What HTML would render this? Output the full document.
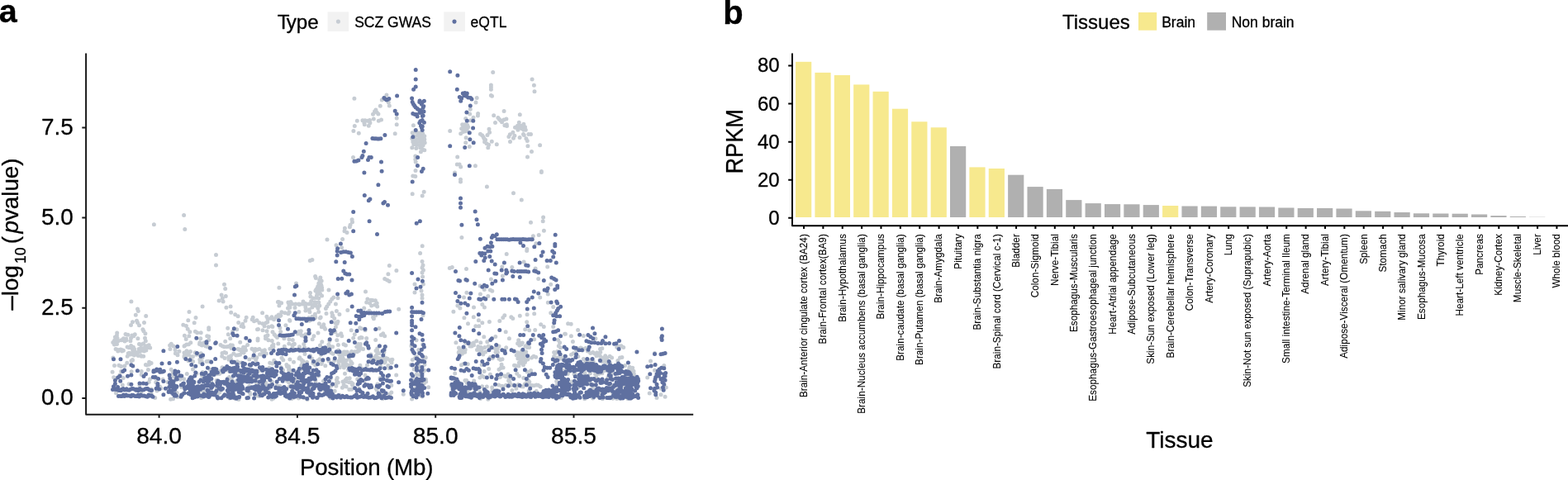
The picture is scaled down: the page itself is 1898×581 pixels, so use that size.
<!DOCTYPE html>
<html lang="en">
<head>
<meta charset="utf-8">
<title>Figure</title>
<style>
html,body{margin:0;padding:0;background:#fff;}
svg{display:block;}
text{font-family:"Liberation Sans", Arial, Helvetica, sans-serif;fill:#000;stroke:#000;stroke-width:0.3px;stroke-linejoin:round;}
text.s{font-size:12.4px;text-anchor:end;stroke-width:0.1px;}
</style>
</head>
<body>
<svg width="1898" height="581" viewBox="0 0 1898 581">
<rect width="1898" height="581" fill="#fff"/>
<g id="panel-a">
<text x="-1.2" y="26.9" font-size="39.5" font-weight="bold">a</text>
<text x="335.8" y="35" font-size="24.2">T<tspan dx="-2.6">ype</tspan></text>
<rect x="396.6" y="14.3" width="25.6" height="23.7" fill="#F2F2F2"/>
<circle cx="409.4" cy="26.1" r="2.55" fill="#C6CCD3"/>
<text x="429.2" y="32.8" font-size="17.5">SCZ GWAS</text>
<rect x="537.3" y="14.3" width="25.6" height="23.7" fill="#F2F2F2"/>
<circle cx="550" cy="26.1" r="2.55" fill="#5F70A0"/>
<text x="569.6" y="32.8" font-size="17.5">eQTL</text>
<path d="M428.9 119.3h0M467.9 114.9h0M462.3 120.9h0M470.3 123.9h0M471.3 127.9h0M460.3 128.3h0M454.9 132.9h0M453.5 134.9h0M456.3 136.3h0M451.5 138.3h0M457.9 137.9h0M452.3 143.9h0M461.5 144.9h0M458.3 146.2h0M432.3 146.2h0M438.9 145.8h0M441.9 145.8h0M444.9 146.2h0M447.5 145.4h0M440.9 148.8h0M447.9 148.8h0M446.3 152.2h0M441.3 150.8h0M429.3 152.4h0M427.9 158.4h0M434.3 161.2h0M480.2 142.9h0M480.2 150.8h0M478.2 161.8h0M500.4 151.8h0M499.2 160.8h0M503.8 159.8h0M507.8 160.8h0M511.8 161.8h0M513.8 164.8h0M509.8 164.8h0M505.8 163.8h0M501.8 164.8h0M498.8 167.8h0M502.8 168.2h0M506.8 167.8h0M510.8 168.2h0M513.8 168.8h0M499.8 171.4h0M503.8 171.8h0M507.8 171.4h0M511.8 172.2h0M514.2 172.8h0M500.8 174.8h0M504.8 175.4h0M508.8 175.2h0M512.2 175.8h0M498.8 178.8h0M503.8 179.4h0M508.8 178.8h0M511.8 180.8h0M513.8 181.8h0M509.4 183.8h0M569.3 132.3h0M568.7 137.9h0M563.7 143.5h0M569.7 145.8h0M559.7 150.8h0M562.7 150.8h0M565.7 151.4h0M560.7 153.8h0M563.7 154.2h0M566.7 153.8h0M558.7 155.8h0M562.1 156.8h0M565.3 156.8h0M563.7 158.8h0M560.7 159.4h0M544.7 158.4h0M557.7 161.8h0M564.1 166.8h0M563.7 172.8h0M568.3 177.4h0M596.7 87.6h0M594.4 102.9h0M594.4 105.5h0M594.4 108.3h0M594.4 115.5h0M595.5 116.3h0M644.1 96.1h0M646.4 103.3h0M647.0 110.7h0M577.2 118.5h0M576.0 123.9h0M578.6 137.5h0M578.4 139.9h0M573.0 142.3h0M610.1 134.5h0M629.3 138.7h0M597.7 139.7h0M602.9 142.5h0M604.3 144.3h0M605.9 145.8h0M607.5 147.8h0M609.9 144.9h0M612.9 143.9h0M599.5 148.4h0M610.9 151.8h0M613.3 150.8h0M613.5 152.4h0M628.3 148.2h0M633.9 150.2h0M626.5 152.2h0M629.9 152.2h0M633.5 152.8h0M623.5 154.2h0M627.9 155.4h0M631.9 155.8h0M635.5 153.8h0M626.9 157.2h0M633.9 157.2h0M636.3 157.2h0M592.0 156.2h0M592.6 160.2h0M590.0 163.4h0M581.4 162.2h0M583.6 163.8h0M585.0 165.8h0M586.0 167.8h0M587.6 169.2h0M586.6 171.8h0M589.0 173.8h0M591.6 175.2h0M590.8 178.8h0M595.3 171.2h0M601.3 174.8h0M620.9 160.2h0M617.3 162.8h0M622.9 164.2h0M615.9 165.4h0M621.5 167.2h0M617.5 171.4h0M629.1 166.6h0M633.5 162.4h0M634.3 163.4h0M639.9 162.4h0M642.5 162.6h0M636.9 167.8h0M638.3 170.4h0M638.9 176.8h0M643.5 183.4h0M653.6 175.8h0M427.5 190.4h0M502.8 189.0h0M502.8 193.0h0M503.2 196.0h0M503.0 206.6h0M499.8 212.9h0M502.8 213.5h0M499.2 234.7h0M513.2 232.3h0M511.2 236.9h0M511.2 297.8h0M553.7 190.0h0M553.3 199.0h0M556.1 199.0h0M557.7 202.0h0M550.5 209.0h0M557.5 217.3h0M557.5 219.9h0M558.9 287.4h0M426.1 265.8h0M426.5 268.8h0M424.0 272.2h0M423.4 274.8h0M417.4 276.2h0M417.0 279.8h0M420.0 281.4h0M414.6 289.4h0M407.0 296.8h0M413.6 299.8h0M638.5 190.0h0M575.4 200.8h0M655.4 207.4h0M655.4 208.4h0M589.4 225.9h0M621.5 233.7h0M631.3 242.1h0M657.6 263.0h0M657.2 267.8h0M642.5 269.2h0M658.4 279.2h0M652.2 284.6h0M645.4 285.8h0M648.8 294.8h0M637.9 301.4h0M222.6 260.5h0M223.8 277.4h0M396.0 290.0h0M186.4 271.8h0M261.5 308.4h0M261.5 321.0h0M271.5 344.3h0M272.7 349.5h0M268.1 357.1h0M273.3 358.5h0M269.3 360.9h0M265.1 363.9h0M270.1 364.9h0M279.1 370.9h0M273.9 372.3h0M279.7 378.2h0M284.7 380.8h0M288.1 382.8h0M298.2 384.2h0M306.2 384.2h0M305.2 386.8h0M307.6 388.8h0M297.0 388.2h0M288.7 390.4h0M293.7 392.2h0M292.1 394.8h0M294.7 395.8h0M275.7 397.2h0M286.7 398.8h0M281.7 401.2h0M276.3 404.8h0M278.7 409.8h0M272.7 413.2h0M290.7 414.2h0M245.1 370.9h0M229.0 377.4h0M237.0 384.6h0M227.8 387.8h0M235.2 390.8h0M221.8 393.2h0M225.4 394.4h0M227.2 398.2h0M252.7 396.8h0M252.7 398.8h0M229.8 401.8h0M236.4 401.2h0M238.8 402.8h0M243.2 402.8h0M223.4 406.2h0M228.8 406.8h0M225.2 410.4h0M250.7 406.8h0M252.7 407.2h0M242.8 409.8h0M252.7 411.4h0M230.8 414.8h0M241.8 414.8h0M158.9 364.9h0M166.5 373.9h0M167.3 376.5h0M164.3 381.2h0M176.7 382.6h0M165.5 388.2h0M160.5 389.8h0M166.5 390.4h0M174.5 390.4h0M158.5 393.4h0M168.5 393.8h0M172.9 398.8h0M173.9 400.8h0M175.9 403.8h0M163.3 404.8h0M154.9 405.2h0M161.9 406.8h0M158.5 409.2h0M149.5 409.8h0M166.9 409.8h0M175.5 409.2h0M138.6 412.8h0M143.0 412.8h0M146.9 411.8h0M152.9 411.8h0M157.9 412.8h0M176.3 412.8h0M377.9 314.4h0M375.3 315.6h0M471.3 321.4h0M479.9 327.5h0M469.9 331.7h0M465.7 337.5h0M468.7 338.9h0M471.3 340.5h0M442.5 352.9h0M444.9 361.9h0M443.7 365.9h0M447.7 366.9h0M449.7 369.9h0M453.7 368.9h0M456.7 370.9h0M440.7 372.9h0M482.7 374.3h0M420.8 375.5h0M454.7 381.8h0M435.7 396.8h0M425.2 399.8h0M463.7 403.8h0M465.7 406.8h0M438.1 408.8h0M454.7 411.4h0M387.8 335.9h0M386.8 338.9h0M389.2 339.9h0M385.8 342.9h0M388.4 343.9h0M386.4 346.3h0M383.9 348.9h0M388.8 348.9h0M381.9 351.9h0M386.8 351.9h0M389.8 350.9h0M383.9 354.9h0M398.0 350.9h0M375.5 354.5h0M375.9 358.9h0M378.9 360.9h0M385.8 360.9h0M403.8 359.9h0M401.8 361.9h0M399.8 364.9h0M397.8 367.9h0M406.4 367.9h0M395.8 370.9h0M394.4 373.5h0M401.8 378.8h0M402.2 382.8h0M404.8 385.4h0M405.8 390.8h0M337.9 348.3h0M358.5 342.9h0M337.5 365.5h0M337.9 369.9h0M348.9 365.9h0M349.9 368.9h0M353.9 367.9h0M357.9 367.9h0M361.9 367.9h0M365.9 367.9h0M369.9 367.5h0M373.9 367.9h0M377.9 368.9h0M381.9 369.9h0M386.8 369.9h0M350.9 372.3h0M369.9 371.9h0M377.9 371.9h0M384.9 372.9h0M369.9 375.9h0M374.9 377.8h0M340.9 377.8h0M344.9 378.8h0M348.9 379.8h0M317.6 378.8h0M329.0 383.8h0M331.6 386.8h0M339.9 381.8h0M311.0 387.8h0M314.0 390.8h0M318.0 391.8h0M322.0 390.8h0M350.9 388.2h0M381.5 384.8h0M386.4 391.8h0M391.8 392.8h0M320.0 394.8h0M325.0 395.8h0M329.0 394.8h0M338.9 396.8h0M345.9 393.8h0M392.8 396.8h0M406.4 395.8h0M318.0 399.8h0M323.0 400.8h0M330.0 401.8h0M364.3 400.8h0M405.8 401.8h0M324.0 405.8h0M332.0 404.8h0M379.9 406.8h0M412.8 403.8h0M408.8 405.8h0M413.8 406.8h0M325.0 411.8h0M343.9 409.8h0M349.9 410.8h0M354.3 411.4h0M369.9 404.8h0M407.8 411.8h0M389.8 413.8h0M508.6 306.4h0M511.0 316.6h0M512.0 321.0h0M511.0 324.0h0M512.4 327.0h0M511.0 329.9h0M511.6 334.9h0M512.4 343.9h0M510.0 351.9h0M511.0 356.9h0M511.0 360.9h0M502.0 343.9h0M502.0 353.9h0M512.0 381.8h0M504.0 411.8h0M547.3 323.4h0M544.3 324.6h0M564.5 325.6h0M564.9 354.3h0M561.5 359.9h0M553.9 369.9h0M556.9 372.9h0M548.9 377.2h0M561.9 384.8h0M566.5 391.8h0M551.9 414.8h0M613.2 307.4h0M637.7 303.6h0M634.1 317.0h0M619.8 323.6h0M607.8 323.0h0M648.1 325.0h0M662.7 323.0h0M651.7 337.5h0M608.4 333.9h0M594.4 337.9h0M666.7 344.3h0M653.7 359.9h0M663.3 355.9h0M663.3 366.3h0M669.7 371.5h0M666.7 378.8h0M581.2 345.9h0M586.2 350.5h0M593.4 350.9h0M595.8 352.3h0M581.4 355.9h0M590.8 358.5h0M583.8 368.5h0M586.4 371.9h0M573.5 372.1h0M573.3 383.8h0M579.4 387.8h0M583.8 390.8h0M592.4 389.4h0M575.8 394.8h0M579.8 394.8h0M585.8 407.8h0M599.8 407.4h0M576.8 412.8h0M581.8 414.8h0M589.8 413.8h0M610.8 381.8h0M608.8 384.4h0M604.8 388.4h0M618.8 383.8h0M620.8 385.4h0M629.3 382.2h0M646.7 379.8h0M638.1 380.8h0M637.7 389.8h0M654.7 392.8h0M658.3 395.4h0M669.7 395.4h0M635.7 398.8h0M640.7 399.8h0M647.7 399.4h0M612.2 401.8h0M616.4 409.8h0M627.7 411.8h0M646.7 410.8h0M683.6 404.2h0M687.6 391.8h0M675.6 411.4h0M677.6 414.8h0M691.2 392.2h0M699.6 399.4h0M684.4 404.2h0M691.4 406.8h0M706.3 406.4h0M693.4 413.4h0M720.9 409.8h0M159.9 406.1h0M143.2 412.6h0M139.4 408.1h0M152.7 409.9h0M140.3 410.1h0M151.0 413.0h0M136.8 414.4h0M141.1 412.5h0M151.2 412.8h0M141.4 406.0h0M138.6 412.1h0M152.0 404.5h0M141.7 402.9h0M142.0 409.2h0M321.4 407.1h0M312.0 412.0h0M335.5 408.4h0M329.3 412.4h0M312.5 398.4h0M312.1 409.9h0M324.0 385.7h0M321.5 409.8h0M324.3 386.2h0M334.3 383.9h0M323.8 389.7h0M322.3 408.4h0M329.9 395.6h0M334.6 383.1h0M322.9 383.3h0M333.5 406.6h0M311.5 398.8h0M328.0 385.3h0M352.0 365.5h0M381.4 380.3h0M385.7 377.4h0M367.0 365.0h0M361.9 377.5h0M376.7 364.4h0M336.4 365.5h0M385.8 365.9h0M357.0 372.4h0M383.6 366.3h0M350.0 377.7h0M340.6 366.8h0M337.3 381.1h0M348.5 372.9h0M356.4 381.5h0M374.3 374.7h0M362.3 368.7h0M381.2 365.7h0M369.5 369.2h0M350.8 372.0h0M382.7 350.5h0M381.6 334.5h0M382.3 336.4h0M389.6 348.2h0M387.6 355.7h0M382.5 360.5h0M384.7 346.8h0M385.7 353.4h0M388.5 339.4h0M389.1 345.9h0M383.4 358.1h0M389.6 357.9h0M398.9 412.6h0M402.3 402.8h0M409.0 389.3h0M402.9 381.9h0M410.9 380.6h0M408.2 391.5h0M407.4 376.4h0M393.6 398.3h0M395.0 379.4h0M409.0 360.8h0M385.0 403.0h0M366.2 406.2h0M339.0 382.6h0M374.8 402.9h0M370.4 411.4h0M350.5 387.6h0M388.2 384.0h0M363.7 404.3h0M387.4 385.0h0M373.8 384.7h0M360.4 404.1h0M381.7 383.5h0M376.3 387.2h0M381.8 384.6h0M336.2 383.0h0M378.0 383.2h0M378.2 410.8h0M370.1 411.5h0M365.2 405.9h0M339.7 401.6h0M389.3 395.8h0M374.5 388.2h0M361.9 401.3h0M456.2 366.9h0M449.0 363.2h0M451.6 384.1h0M447.0 376.3h0M451.1 363.4h0M454.4 363.8h0M452.4 385.7h0M435.1 409.2h0M436.7 408.5h0M429.3 404.8h0M458.9 397.4h0M437.5 397.7h0M427.7 409.2h0M461.3 405.5h0M442.1 399.7h0M443.7 409.5h0M155.2 427.8h0M158.2 427.9h0M160.5 427.4h0M168.1 422.6h0M170.2 421.6h0M172.9 421.7h0M175.9 419.6h0M169.1 423.3h0M171.3 424.1h0M174.3 423.7h0M176.4 422.5h0M168.5 416.6h0M170.8 417.0h0M173.5 416.1h0M177.5 419.8h0M180.2 417.8h0M156.4 427.3h0M158.2 429.0h0M161.2 426.5h0M164.1 427.1h0M140.1 422.6h0M142.8 424.8h0M146.0 422.9h0M147.7 423.8h0M177.0 418.7h0M179.8 419.1h0M178.7 420.5h0M181.7 421.1h0M154.1 420.0h0M156.2 420.7h0M158.6 418.4h0M161.4 420.2h0M160.0 421.8h0M162.5 422.4h0M171.2 431.3h0M173.7 431.3h0M169.4 425.4h0M172.6 424.2h0M162.4 430.0h0M165.5 428.7h0M167.3 430.6h0M170.6 430.5h0M174.5 425.1h0M176.9 424.1h0M138.4 416.9h0M141.5 416.4h0M160.8 424.8h0M163.8 426.1h0M166.5 426.8h0M142.8 425.0h0M144.6 423.4h0M147.3 423.4h0M141.4 423.1h0M144.5 423.5h0M154.2 431.2h0M156.7 429.1h0M147.6 425.1h0M149.4 424.3h0M146.6 443.5h0M177.6 442.0h0M138.5 442.4h0M144.0 442.2h0M150.9 442.9h0M160.5 435.9h0M159.0 436.8h0M160.4 435.4h0M136.9 432.9h0M153.8 439.3h0M180.2 441.3h0M181.5 439.6h0M183.1 439.4h0M180.6 438.3h0M176.4 441.5h0M180.8 440.7h0M205.6 417.9h0M212.4 427.7h0M210.1 418.9h0M207.3 416.3h0M205.9 422.4h0M212.1 423.5h0M215.0 429.8h0M216.9 425.3h0M250.1 437.4h0M252.1 437.2h0M254.8 437.6h0M228.1 436.8h0M231.0 434.8h0M233.6 437.4h0M237.9 429.2h0M240.3 428.7h0M243.2 427.7h0M242.1 438.5h0M244.4 437.7h0M241.8 435.2h0M243.8 433.0h0M223.0 432.1h0M223.0 430.9h0M224.1 433.2h0M227.2 429.5h0M241.5 416.5h0M243.8 417.6h0M246.6 415.0h0M249.0 417.1h0M223.0 419.1h0M223.5 418.5h0M225.9 417.0h0M228.4 416.8h0M244.5 418.0h0M246.2 417.0h0M249.0 419.0h0M251.5 419.8h0M228.3 429.2h0M231.2 431.8h0M233.4 431.7h0M223.0 427.0h0M226.0 424.7h0M227.8 426.2h0M230.4 425.5h0M236.3 426.8h0M238.4 428.5h0M241.2 428.6h0M244.9 432.7h0M292.3 423.9h0M295.0 427.1h0M297.5 424.0h0M290.1 422.9h0M292.5 425.5h0M308.8 432.5h0M310.8 432.7h0M306.4 423.1h0M308.9 422.4h0M311.3 423.2h0M313.9 422.6h0M305.0 422.3h0M307.9 425.3h0M310.1 423.5h0M267.0 417.5h0M269.3 419.1h0M271.4 419.8h0M269.0 427.5h0M271.8 426.4h0M273.6 427.3h0M288.1 422.6h0M289.7 423.5h0M293.1 422.9h0M306.3 432.5h0M309.7 435.8h0M287.3 437.7h0M289.4 438.9h0M292.3 438.9h0M294.6 420.2h0M296.6 420.6h0M299.6 417.5h0M314.5 428.9h0M317.3 429.1h0M319.3 427.5h0M322.3 427.9h0M280.0 421.5h0M282.4 421.5h0M274.4 419.8h0M276.2 419.4h0M277.0 435.2h0M279.6 434.8h0M282.2 437.9h0M282.8 428.1h0M285.9 429.9h0M288.3 429.7h0M290.6 429.2h0M279.1 417.7h0M281.4 418.1h0M317.5 424.7h0M320.4 423.8h0M268.7 431.3h0M272.0 433.5h0M276.8 432.1h0M279.5 430.8h0M301.8 435.0h0M362.5 419.8h0M355.0 416.8h0M356.4 416.2h0M326.8 422.2h0M355.7 417.1h0M353.9 421.3h0M354.0 418.0h0M353.9 417.9h0M344.3 419.3h0M330.9 417.0h0M336.8 416.1h0M330.8 420.0h0M329.4 418.7h0M349.8 415.9h0M331.8 436.2h0M350.9 435.1h0M355.5 438.2h0M342.8 435.8h0M362.8 433.6h0M349.5 443.4h0M347.5 443.4h0M366.0 439.1h0M365.0 435.4h0M346.9 441.6h0M341.0 433.3h0M366.2 440.6h0M362.8 432.7h0M335.0 439.7h0M349.6 445.4h0M364.7 442.5h0M340.2 444.7h0M329.6 439.9h0M362.1 433.9h0M326.7 439.2h0M187.7 481.4h0M180.3 462.4h0M171.2 449.5h0M169.0 466.8h0M156.1 464.7h0M159.1 449.7h0M148.3 466.1h0M179.4 447.6h0M183.1 471.0h0M194.9 469.9h0M146.6 449.5h0M163.1 479.4h0M188.3 458.1h0M190.0 472.9h0M181.4 458.9h0M203.0 462.5h0M188.7 462.8h0M171.2 474.0h0M137.7 456.8h0M183.3 477.2h0M193.5 450.4h0M144.9 454.0h0M140.7 475.1h0M195.1 450.1h0M136.1 450.2h0M205.2 454.9h0M193.5 468.1h0M171.2 453.4h0M149.2 457.5h0M197.1 459.3h0M188.9 456.6h0M140.5 475.7h0M288.8 471.5h0M277.6 456.5h0M359.8 451.8h0M278.8 447.6h0M325.8 470.2h0M344.8 470.6h0M335.0 468.5h0M355.4 464.8h0M245.3 450.5h0M262.6 452.4h0M267.7 472.2h0M235.2 477.1h0M209.5 482.8h0M318.1 470.9h0M245.8 457.4h0M314.0 479.6h0M213.4 469.5h0M249.7 473.5h0M277.6 475.4h0M240.6 476.8h0M298.2 447.2h0M244.3 453.9h0M283.4 478.2h0M233.4 464.6h0M214.2 475.5h0M278.3 460.2h0M275.9 446.4h0M233.3 475.6h0M313.6 466.2h0M329.0 483.2h0M337.8 473.8h0M320.9 466.0h0M352.4 479.6h0M285.8 453.0h0M266.9 451.1h0M266.2 449.4h0M267.5 451.1h0M345.7 471.6h0M263.7 480.8h0M365.2 447.1h0M243.6 481.4h0M322.9 449.3h0M321.6 462.9h0M275.6 458.1h0M213.6 454.9h0M284.7 482.6h0M363.1 478.4h0M289.3 468.2h0M287.1 451.1h0M345.9 479.3h0M325.2 446.9h0M209.4 463.3h0M213.7 467.5h0M255.8 455.3h0M266.7 468.1h0M215.0 480.4h0M366.1 465.2h0M245.2 472.9h0M271.3 446.1h0M260.9 447.2h0M210.7 454.0h0M306.5 470.1h0M335.2 466.6h0M310.7 463.9h0M347.4 480.4h0M303.0 477.2h0M349.5 462.7h0M280.4 459.0h0M288.9 451.4h0M266.8 463.7h0M364.6 466.3h0M238.0 452.3h0M253.1 480.5h0M269.0 444.8h0M277.3 473.2h0M350.4 467.8h0M340.6 446.1h0M366.6 481.1h0M348.9 456.7h0M226.3 452.5h0M210.3 455.7h0M361.4 481.9h0M304.7 454.5h0M355.6 461.6h0M344.6 452.7h0M325.9 445.2h0M342.0 448.0h0M302.5 446.2h0M206.6 483.3h0M244.4 454.0h0M302.3 475.3h0M247.0 475.8h0M278.0 481.9h0M301.8 467.5h0M338.7 467.2h0M286.1 461.2h0M330.8 482.2h0M346.8 480.0h0M269.0 446.8h0M362.9 465.9h0M362.6 477.1h0M252.9 475.4h0M363.5 472.5h0M351.7 480.9h0M255.7 462.5h0M362.9 457.8h0M274.0 447.6h0M329.2 462.2h0M271.0 447.3h0M363.4 474.2h0M265.8 475.0h0M207.2 447.2h0M210.9 472.1h0M311.7 457.2h0M336.0 469.6h0M222.1 476.1h0M354.2 472.9h0M222.7 458.7h0M298.4 451.4h0M250.3 477.7h0M207.9 460.8h0M349.6 447.8h0M347.5 461.1h0M256.7 474.9h0M244.1 479.1h0M315.4 447.7h0M219.8 468.8h0M281.6 448.3h0M209.2 451.2h0M311.7 479.0h0M233.5 447.1h0M212.2 479.2h0M354.4 459.0h0M342.6 448.1h0M326.6 459.4h0M262.1 460.5h0M265.5 452.5h0M309.8 469.9h0M229.6 475.5h0M312.2 449.4h0M353.1 482.4h0M288.9 483.4h0M280.2 472.1h0M353.6 468.3h0M317.1 474.1h0M246.1 470.3h0M218.1 459.3h0M355.8 481.2h0M269.5 446.9h0M356.7 462.0h0M212.4 459.8h0M350.7 459.0h0M360.6 449.5h0M254.3 447.6h0M278.1 445.5h0M322.7 465.8h0M321.2 457.3h0M277.8 449.6h0M263.6 476.5h0M357.6 459.2h0M278.3 470.2h0M352.2 448.6h0M326.1 452.4h0M317.4 478.8h0M262.4 470.3h0M341.4 458.5h0M240.0 473.5h0M235.3 462.5h0M307.2 458.1h0M265.7 468.7h0M416.0 416.7h0M418.4 418.1h0M415.0 428.5h0M417.5 426.0h0M420.2 426.0h0M423.2 428.3h0M416.3 426.1h0M418.6 428.7h0M414.8 430.0h0M416.8 426.5h0M420.0 427.0h0M427.1 426.9h0M429.4 425.7h0M432.3 425.8h0M434.4 424.5h0M433.7 416.4h0M436.4 416.5h0M432.2 425.2h0M434.0 423.7h0M436.9 422.0h0M431.7 419.7h0M433.7 419.7h0M436.1 419.7h0M439.6 422.6h0M425.6 425.6h0M428.3 428.6h0M402.6 419.8h0M409.5 425.8h0M409.2 427.1h0M390.3 435.9h0M397.9 417.0h0M386.0 424.5h0M400.8 427.1h0M384.7 436.4h0M413.0 431.4h0M409.4 417.4h0M397.5 420.6h0M380.3 423.1h0M378.8 439.3h0M388.5 429.2h0M409.7 424.0h0M386.9 434.7h0M375.4 430.8h0M389.7 422.8h0M377.5 434.1h0M398.0 436.8h0M399.1 419.1h0M389.9 438.4h0M410.8 429.2h0M404.7 436.5h0M403.1 428.3h0M368.6 420.4h0M367.8 416.5h0M369.0 428.6h0M387.5 417.9h0M398.9 424.1h0M422.6 433.7h0M424.7 437.7h0M419.5 442.4h0M417.9 436.5h0M419.4 441.0h0M416.3 438.1h0M417.4 437.3h0M425.8 439.5h0M411.6 433.5h0M426.1 439.8h0M409.9 437.0h0M415.3 433.9h0M419.3 436.3h0M425.0 444.5h0M417.2 443.1h0M422.3 442.3h0M411.3 444.7h0M413.9 437.4h0M474.0 438.9h0M450.3 437.9h0M457.0 440.4h0M461.8 437.9h0M464.9 424.4h0M464.4 432.8h0M464.9 426.4h0M467.1 433.6h0M458.4 435.4h0M458.2 433.4h0M466.3 438.1h0M455.2 430.5h0M460.3 439.2h0M464.6 433.9h0M454.0 432.5h0M456.8 421.7h0M461.8 433.7h0M473.0 435.7h0M465.4 439.1h0M474.9 435.3h0M457.0 440.5h0M450.8 435.3h0M454.8 434.5h0M448.9 429.1h0M464.8 436.0h0M472.6 436.9h0M451.0 438.7h0M456.9 425.3h0M456.8 427.8h0M450.2 433.1h0M458.8 427.7h0M447.6 430.6h0M469.1 434.3h0M449.3 434.0h0M455.0 424.5h0M407.5 459.6h0M425.3 463.1h0M415.0 461.9h0M419.1 467.9h0M423.2 457.7h0M419.5 461.8h0M408.3 457.6h0M409.3 463.1h0M407.0 464.0h0M408.2 457.4h0M406.9 467.2h0M426.5 465.9h0M427.0 464.4h0M418.1 460.0h0M422.8 471.5h0M386.2 454.4h0M417.5 452.3h0M473.8 475.1h0M422.7 462.7h0M471.0 445.8h0M409.7 441.0h0M419.8 458.1h0M440.9 460.8h0M393.8 469.7h0M434.6 470.2h0M392.4 471.7h0M469.8 442.6h0M456.9 465.1h0M460.0 457.7h0M416.1 465.8h0M442.0 454.2h0M432.7 458.9h0M460.9 444.0h0M391.5 461.2h0M448.9 466.5h0M405.2 473.3h0M435.9 442.2h0M456.0 471.8h0M421.7 447.8h0M393.8 442.7h0M400.1 458.0h0M389.0 440.5h0M400.0 481.8h0M438.3 446.2h0M414.4 469.2h0M463.4 482.4h0M411.5 478.5h0M444.5 442.1h0M472.0 477.1h0M425.7 471.3h0M416.4 444.9h0M403.7 478.5h0M400.8 467.0h0M393.4 474.1h0M407.8 443.5h0M415.0 441.8h0M455.1 469.9h0M464.7 478.6h0M460.9 476.8h0M471.0 445.5h0M381.5 440.7h0M385.7 465.0h0M379.3 470.2h0M377.1 451.4h0M381.8 441.9h0M381.9 461.1h0M372.0 483.0h0M369.0 443.5h0M371.7 439.5h0M383.8 437.4h0M368.0 481.6h0M377.9 478.6h0M371.6 438.5h0M371.9 482.5h0M375.6 468.9h0M367.0 437.2h0M379.1 439.8h0M372.0 483.4h0M382.9 439.5h0M368.4 469.2h0M383.0 449.5h0M372.0 444.4h0M385.5 455.0h0M381.5 455.1h0M373.3 471.5h0M479.7 454.0h0M488.3 477.2h0M473.8 466.5h0M506.6 460.2h0M515.4 459.2h0M507.3 464.1h0M512.5 449.3h0M504.4 433.5h0M514.5 433.2h0M499.3 435.6h0M504.6 432.3h0M498.8 470.6h0M510.1 454.4h0M515.7 461.9h0M507.2 442.8h0M509.4 479.1h0M498.6 482.9h0M498.7 470.8h0M501.8 459.8h0M501.2 447.1h0M508.0 453.7h0M503.7 453.5h0M497.9 418.8h0M502.5 433.6h0M513.9 441.2h0M515.3 432.7h0M510.2 423.5h0M503.1 432.5h0M498.0 477.8h0M511.1 480.1h0M513.4 463.9h0M503.0 470.2h0M504.6 453.6h0M513.6 448.2h0M497.3 441.6h0M508.8 446.8h0M506.8 423.6h0M511.6 417.0h0M518.7 468.8h0M555.6 425.8h0M557.7 426.5h0M560.1 423.8h0M562.4 426.2h0M577.5 423.4h0M580.1 423.5h0M582.9 425.2h0M600.0 426.3h0M602.4 426.5h0M555.2 426.8h0M557.6 427.5h0M559.4 428.3h0M562.7 426.3h0M569.0 419.1h0M571.0 419.1h0M573.5 417.8h0M578.8 419.4h0M582.1 420.4h0M583.7 421.8h0M586.8 420.5h0M555.4 421.0h0M557.7 423.9h0M560.6 422.4h0M563.2 423.2h0M567.6 415.0h0M570.4 416.3h0M573.3 415.0h0M563.6 415.0h0M565.8 415.0h0M582.2 427.9h0M584.8 429.1h0M587.6 426.1h0M591.2 419.0h0M593.7 419.8h0M593.4 432.4h0M596.3 433.5h0M599.4 421.9h0M602.3 422.1h0M604.0 419.1h0M583.2 441.4h0M585.1 441.2h0M558.5 441.7h0M561.2 440.6h0M564.4 440.5h0M566.3 440.7h0M550.7 452.1h0M587.0 476.6h0M546.4 467.1h0M562.9 460.6h0M595.7 469.0h0M564.7 460.4h0M589.3 468.0h0M599.8 472.4h0M558.7 472.6h0M568.1 471.0h0M602.1 472.5h0M580.9 457.1h0M565.1 463.2h0M569.2 476.8h0M586.1 449.4h0M580.0 479.3h0M583.6 467.8h0M593.9 480.7h0M580.9 474.5h0M591.7 446.5h0M598.1 478.0h0M593.4 453.3h0M583.3 454.8h0M548.6 475.4h0M566.0 475.3h0M595.9 473.0h0M590.8 483.3h0M558.3 464.2h0M581.6 482.6h0M574.3 478.5h0M586.0 456.4h0M592.2 476.7h0M573.7 460.9h0M576.5 470.9h0M594.1 478.3h0M634.0 433.3h0M636.5 435.8h0M638.8 435.0h0M638.4 420.5h0M640.6 420.4h0M633.2 439.0h0M635.5 438.6h0M607.1 441.3h0M609.1 444.9h0M626.9 434.1h0M630.1 434.7h0M632.0 434.5h0M604.0 447.2h0M606.2 445.5h0M638.1 449.9h0M640.5 450.2h0M642.6 448.5h0M625.2 430.0h0M628.3 430.3h0M630.6 431.2h0M626.6 415.8h0M628.8 418.1h0M630.9 417.1h0M626.7 426.7h0M629.1 428.6h0M632.1 428.7h0M634.8 429.6h0M631.5 425.0h0M634.2 427.6h0M636.7 426.0h0M643.5 433.1h0M646.0 431.2h0M648.7 432.3h0M604.0 434.2h0M604.0 434.3h0M605.8 435.6h0M608.0 434.8h0M628.4 439.1h0M631.2 439.4h0M633.5 441.7h0M629.3 415.0h0M632.3 415.0h0M622.5 442.3h0M624.6 442.8h0M627.9 443.0h0M609.9 424.3h0M612.7 420.8h0M635.9 418.9h0M638.4 417.1h0M640.7 415.9h0M633.8 457.6h0M618.2 465.5h0M635.2 464.9h0M627.7 466.1h0M616.5 459.0h0M610.7 454.9h0M640.2 473.3h0M628.5 455.3h0M612.5 455.8h0M615.0 452.9h0M605.4 456.4h0M617.0 462.8h0M615.5 456.3h0M624.9 470.2h0M637.9 462.4h0M615.6 460.8h0M640.8 462.3h0M639.0 459.8h0M604.5 456.8h0M619.9 472.6h0M625.8 452.3h0M649.3 473.4h0M603.7 466.1h0M607.2 467.2h0M608.9 467.8h0M612.5 466.3h0M615.3 466.9h0M617.5 466.3h0M619.8 466.3h0M621.9 465.9h0M625.2 467.4h0M627.4 465.4h0M630.9 467.7h0M633.2 467.9h0M635.4 465.1h0M638.8 465.6h0M640.4 466.3h0M643.9 466.6h0M646.1 466.7h0M649.2 466.1h0M651.4 466.3h0M654.1 468.0h0M735.7 439.3h0M738.6 439.8h0M715.4 435.8h0M718.4 438.1h0M675.9 432.9h0M678.8 434.0h0M680.8 433.2h0M683.5 431.1h0M726.5 422.6h0M728.8 421.8h0M746.7 420.3h0M749.6 419.3h0M752.0 418.8h0M754.7 420.6h0M670.6 433.1h0M670.6 431.4h0M671.6 433.9h0M674.3 432.9h0M712.2 436.8h0M715.5 439.2h0M676.3 418.8h0M678.5 420.8h0M697.0 432.0h0M699.8 431.6h0M705.4 440.4h0M708.5 438.6h0M696.6 422.4h0M698.2 421.7h0M701.6 422.0h0M703.8 421.5h0M706.2 422.6h0M708.9 421.4h0M711.3 424.9h0M691.5 429.2h0M694.1 427.8h0M706.3 434.6h0M708.3 435.6h0M732.7 430.7h0M734.9 433.3h0M738.1 431.3h0M740.6 432.9h0M724.6 429.0h0M726.8 426.3h0M726.0 435.7h0M728.7 433.0h0M730.8 433.4h0M728.5 437.6h0M731.2 437.3h0M734.1 437.4h0M722.0 430.7h0M724.4 428.1h0M726.3 430.8h0M714.8 427.4h0M717.7 426.5h0M719.8 427.9h0M722.4 427.0h0M697.8 423.7h0M700.2 421.9h0M702.9 421.0h0M705.2 424.0h0M670.6 426.4h0M672.8 427.3h0M674.6 425.6h0M747.9 436.5h0M750.5 433.1h0M741.6 474.9h0M679.0 478.3h0M678.0 479.1h0M763.3 481.9h0M714.3 452.0h0M681.2 451.2h0M763.3 450.8h0M716.8 465.0h0M725.2 480.5h0M755.6 465.4h0M750.8 482.5h0M725.3 452.2h0M704.9 461.8h0M717.5 479.4h0M765.9 459.7h0M747.9 441.6h0M678.8 478.2h0M737.5 481.0h0M729.3 482.8h0M682.3 460.6h0M765.6 463.0h0M710.2 463.9h0M758.5 462.2h0M692.2 444.7h0M761.5 447.1h0M701.6 476.6h0M729.8 472.5h0M714.1 459.0h0M728.2 450.9h0M678.9 478.4h0M679.8 471.3h0M717.7 482.1h0M747.6 457.8h0M681.2 479.1h0M770.3 460.6h0M728.9 451.7h0M690.4 480.2h0M760.9 475.6h0M679.4 481.3h0M758.0 453.6h0M709.9 461.6h0M707.7 482.8h0M717.7 468.5h0M770.1 459.1h0M724.0 480.0h0M723.2 443.7h0M689.6 449.5h0M720.6 466.8h0M726.3 462.2h0M709.6 459.9h0M740.0 452.1h0M746.5 472.1h0M762.1 444.3h0M696.0 452.2h0M673.0 467.7h0M736.4 473.5h0M768.8 457.2h0M699.2 446.8h0M752.9 467.3h0M692.1 462.1h0M714.0 473.1h0M729.7 461.0h0M687.2 452.4h0M713.9 463.7h0M769.9 467.0h0M720.6 453.0h0M685.7 451.7h0M761.6 454.2h0M715.1 458.4h0M703.3 455.5h0M695.0 452.9h0M757.5 474.3h0M761.8 445.2h0M765.4 446.5h0M698.1 455.7h0M759.8 482.4h0M756.5 442.5h0M727.2 474.0h0M711.8 443.7h0M740.3 458.1h0M675.2 473.5h0M720.6 459.7h0M699.9 481.0h0M703.7 459.3h0M708.1 452.1h0M739.9 466.1h0M697.8 480.4h0M766.0 462.6h0M760.9 479.4h0M726.0 451.3h0M741.7 482.2h0M679.6 456.0h0M737.2 452.7h0M674.5 465.4h0M762.9 473.7h0M767.0 449.2h0M754.8 474.3h0M761.4 456.2h0M746.6 482.4h0M716.6 471.9h0M712.6 479.8h0M710.5 462.3h0M689.0 449.8h0M721.4 475.2h0M696.7 455.0h0M722.0 456.9h0M756.4 460.0h0M772.4 460.1h0M699.9 469.0h0M766.9 478.7h0M721.5 472.5h0M721.9 453.8h0M769.0 462.2h0M698.9 479.0h0M697.0 477.7h0M751.8 449.8h0M678.7 454.9h0M677.5 481.2h0M678.5 443.6h0M750.7 465.0h0M673.7 461.6h0M684.0 449.4h0M759.2 463.0h0M710.4 478.8h0M732.9 481.1h0M727.1 476.9h0M688.6 442.8h0M765.7 445.2h0M707.1 450.3h0M735.0 459.0h0M728.2 460.9h0M762.0 445.3h0M736.0 456.4h0M756.4 467.1h0M743.5 481.0h0M686.3 448.8h0M732.3 448.5h0M689.0 471.3h0M772.1 478.2h0M682.1 448.4h0M787.5 437.0h0M783.7 457.1h0M786.2 475.9h0M800.0 477.8h0M805.1 480.3h0M795.0 481.6h0M792.5 427.6h0M803.8 442.6h0M792.5 448.3h0M806.3 469.0h0M800.0 470.3h0M767.4 452.7h0M752.9 432.6h0" fill="none" stroke="#C6CCD3" stroke-width="5" stroke-linecap="round"/>
<path d="M503.2 84.4h0M503.2 95.9h0M503.2 104.9h0M500.6 108.3h0M498.6 118.9h0M480.6 115.9h0M464.9 118.5h0M467.9 120.9h0M470.9 119.5h0M466.5 119.9h0M469.5 120.3h0M478.2 134.3h0M480.2 137.9h0M499.2 123.5h0M500.4 125.9h0M501.8 128.3h0M503.2 129.9h0M505.2 131.5h0M507.8 123.5h0M511.0 123.9h0M513.4 122.3h0M512.8 128.5h0M508.8 133.5h0M511.2 135.5h0M513.0 134.9h0M499.8 137.5h0M502.2 138.5h0M505.2 140.9h0M512.2 139.9h0M511.2 145.4h0M513.4 148.2h0M507.8 148.8h0M509.4 152.2h0M510.4 154.8h0M511.2 157.4h0M503.2 157.4h0M499.8 165.8h0M450.9 167.4h0M452.9 167.8h0M454.9 167.8h0M456.9 168.0h0M458.9 168.0h0M460.9 167.8h0M465.9 163.4h0M443.1 173.4h0M440.3 183.2h0M544.7 86.8h0M553.9 91.2h0M553.3 108.3h0M560.3 112.9h0M562.7 112.5h0M565.3 112.9h0M561.7 115.5h0M564.1 116.3h0M556.3 117.5h0M558.7 118.9h0M566.7 117.9h0M569.7 118.5h0M557.7 122.3h0M569.3 127.9h0M564.9 135.9h0M565.3 146.2h0M568.3 160.8h0M568.9 168.8h0M562.7 178.4h0M544.7 176.8h0M571.0 119.9h0M572.8 146.2h0M572.6 155.0h0M573.2 172.8h0M438.9 188.4h0M437.9 190.4h0M446.9 190.4h0M449.3 190.4h0M445.5 193.6h0M428.9 195.2h0M431.5 195.0h0M433.9 194.0h0M461.5 196.0h0M440.9 209.0h0M462.1 207.2h0M457.9 223.7h0M441.3 236.5h0M447.9 241.1h0M446.3 242.7h0M465.5 244.5h0M463.9 245.9h0M469.5 248.3h0M427.7 256.5h0M447.1 267.8h0M427.7 279.8h0M456.5 283.4h0M412.4 295.0h0M408.6 300.8h0M505.6 190.4h0M505.4 200.6h0M512.2 204.2h0M510.4 207.6h0M499.2 219.9h0M508.4 267.8h0M504.2 270.2h0M568.3 200.8h0M550.5 211.5h0M557.5 239.9h0M557.5 245.9h0M557.5 251.3h0M558.9 272.2h0M575.2 255.9h0M577.0 265.8h0M578.4 271.8h0M581.4 289.2h0M601.3 283.8h0M596.5 285.2h0M595.3 287.4h0M598.9 285.8h0M601.9 289.8h0M604.3 289.8h0M606.7 289.8h0M609.1 289.8h0M611.5 289.8h0M613.9 289.8h0M616.3 290.2h0M618.7 289.8h0M621.1 289.6h0M623.5 289.8h0M625.9 289.8h0M628.3 289.8h0M630.7 289.8h0M633.1 289.6h0M635.5 289.8h0M637.9 290.0h0M640.3 289.8h0M642.7 289.8h0M644.3 289.8h0M672.2 284.2h0M594.4 293.8h0M590.0 298.2h0M593.0 298.8h0M595.9 298.2h0M587.0 300.2h0M629.9 293.8h0M633.5 297.4h0M646.8 298.8h0M652.8 294.4h0M671.8 295.4h0M671.8 297.8h0M283.3 397.8h0M281.7 403.8h0M282.7 405.8h0M287.1 406.2h0M237.8 409.2h0M249.9 413.8h0M261.3 414.8h0M297.8 409.2h0M302.2 412.4h0M408.2 304.0h0M408.2 309.0h0M412.8 305.4h0M415.8 304.8h0M418.8 304.8h0M421.8 305.4h0M424.4 306.0h0M426.4 310.4h0M406.8 316.8h0M417.2 317.6h0M415.8 327.9h0M417.8 330.9h0M420.2 331.9h0M422.8 331.9h0M409.2 337.5h0M413.8 337.3h0M426.0 338.9h0M420.8 352.9h0M418.8 354.9h0M422.8 356.9h0M425.4 355.9h0M408.6 356.1h0M426.2 370.9h0M433.8 376.3h0M436.7 375.9h0M437.7 378.8h0M440.7 378.4h0M443.7 378.8h0M446.7 379.0h0M449.7 379.0h0M452.7 379.0h0M455.7 379.0h0M458.7 379.0h0M462.7 379.4h0M466.3 377.4h0M469.1 377.0h0M471.7 377.0h0M431.2 382.4h0M434.4 383.2h0M437.7 382.8h0M440.7 381.8h0M434.8 386.8h0M424.2 390.8h0M430.8 391.2h0M441.9 398.2h0M454.7 398.4h0M432.0 400.6h0M479.7 403.0h0M422.2 412.4h0M429.4 414.4h0M443.7 414.8h0M401.2 389.8h0M399.8 399.8h0M402.4 400.8h0M404.4 399.8h0M400.8 403.8h0M399.2 410.8h0M358.9 345.9h0M357.3 346.9h0M356.5 357.1h0M357.3 378.8h0M355.9 381.8h0M358.9 385.8h0M361.5 385.8h0M363.9 386.0h0M366.5 386.0h0M368.9 386.0h0M371.3 386.2h0M373.9 386.2h0M376.5 386.2h0M379.3 386.2h0M370.9 388.2h0M337.5 387.8h0M337.5 393.4h0M365.3 392.4h0M348.5 398.2h0M373.9 399.4h0M373.9 403.4h0M357.3 401.8h0M338.9 405.8h0M341.3 406.2h0M343.9 406.2h0M346.5 406.0h0M349.1 405.8h0M351.9 405.6h0M354.3 405.0h0M369.9 408.8h0M369.9 412.4h0M498.6 330.5h0M498.6 372.3h0M498.6 377.4h0M498.6 382.8h0M498.6 388.2h0M498.6 390.8h0M498.6 393.8h0M498.6 399.8h0M498.6 407.8h0M498.6 412.8h0M506.0 337.9h0M511.4 340.3h0M509.0 347.3h0M504.0 348.9h0M511.0 366.3h0M501.0 377.8h0M504.0 377.8h0M507.0 377.8h0M510.0 377.8h0M512.4 378.8h0M510.0 386.4h0M503.0 395.8h0M508.0 403.8h0M511.0 405.2h0M501.0 409.8h0M511.6 411.4h0M551.5 328.5h0M554.9 339.5h0M556.5 339.9h0M563.9 338.5h0M565.3 339.3h0M574.7 343.3h0M551.5 354.5h0M555.9 358.9h0M569.9 354.9h0M568.3 360.9h0M553.9 364.5h0M557.9 367.3h0M562.9 366.9h0M566.3 369.3h0M564.9 379.2h0M579.4 380.8h0M556.3 396.4h0M550.9 403.0h0M555.9 406.8h0M557.9 411.8h0M562.5 412.8h0M566.9 414.8h0M573.3 399.8h0M579.8 403.8h0M604.8 399.4h0M580.8 306.4h0M583.8 306.4h0M586.8 307.0h0M582.8 309.0h0M590.8 304.0h0M593.8 304.0h0M592.8 310.6h0M587.2 312.0h0M585.8 315.6h0M575.8 316.6h0M595.2 316.0h0M599.2 320.0h0M610.4 318.0h0M591.2 327.0h0M607.2 327.0h0M598.8 330.9h0M600.8 331.3h0M612.8 327.0h0M613.8 329.5h0M612.8 330.9h0M619.8 327.9h0M622.2 328.5h0M626.7 328.5h0M629.3 328.5h0M631.7 328.5h0M634.3 328.5h0M636.7 328.5h0M639.7 328.9h0M646.7 327.9h0M648.7 328.5h0M651.7 329.9h0M620.8 334.5h0M629.3 335.5h0M608.4 338.9h0M599.8 340.3h0M595.8 343.3h0M586.2 345.3h0M583.8 347.3h0M589.2 346.5h0M579.8 361.9h0M581.8 362.5h0M585.8 360.9h0M587.8 361.9h0M597.8 362.3h0M607.8 362.3h0M610.8 362.3h0M616.4 362.3h0M623.4 361.9h0M625.3 362.5h0M627.1 365.5h0M639.7 362.5h0M637.7 365.5h0M644.3 359.9h0M646.3 352.9h0M651.7 354.9h0M638.3 373.9h0M646.3 373.1h0M638.7 394.8h0M629.1 318.0h0M636.7 321.0h0M639.1 321.6h0M648.1 314.4h0M657.1 305.0h0M655.3 309.6h0M668.7 304.0h0M670.7 306.0h0M669.7 311.0h0M662.1 315.6h0M666.3 315.4h0M673.3 318.0h0M658.3 339.5h0M667.7 335.9h0M670.7 337.5h0M673.1 338.9h0M674.7 345.9h0M674.7 348.3h0M671.7 350.5h0M663.1 348.9h0M659.1 350.9h0M662.1 351.9h0M667.1 365.9h0M673.7 364.9h0M674.7 366.9h0M678.6 371.3h0M675.6 373.5h0M674.3 375.9h0M672.7 378.8h0M669.7 381.8h0M673.7 382.8h0M677.6 382.8h0M671.1 387.8h0M670.7 390.8h0M675.6 399.8h0M672.7 401.2h0M669.7 401.8h0M678.6 406.8h0M671.1 410.4h0M629.7 405.4h0M633.7 405.4h0M645.3 405.4h0M652.7 406.2h0M657.7 405.4h0M655.7 408.8h0M658.7 410.8h0M660.7 412.8h0M642.7 411.4h0M639.7 414.8h0M657.7 414.2h0M595.4 409.8h0M593.8 411.4h0M717.5 397.0h0M719.9 403.8h0M701.6 405.2h0M711.9 405.4h0M714.9 407.8h0M717.9 409.8h0M732.9 407.8h0M709.9 412.8h0M712.9 413.8h0M715.9 414.8h0M719.9 414.8h0M723.9 415.4h0M729.5 412.4h0M727.9 415.4h0M732.9 415.8h0M737.5 415.4h0M743.5 416.2h0M745.9 415.8h0M749.5 412.4h0M801.4 398.0h0M801.4 406.8h0M800.8 408.8h0M801.2 411.4h0M501.8 128.1h0M505.9 132.3h0M508.0 136.4h0M503.9 138.5h0M510.1 126.1h0M512.1 130.2h0M508.0 121.9h0M511.3 140.5h0M508.8 146.7h0M511.3 152.9h0M136.5 471.5h0M138.4 471.2h0M139.3 471.1h0M140.8 471.5h0M143.3 471.4h0M144.0 472.6h0M146.4 472.8h0M147.3 471.2h0M149.1 470.4h0M150.9 472.0h0M153.2 470.7h0M154.2 471.9h0M156.2 472.3h0M157.4 471.5h0M159.7 470.4h0M161.1 470.5h0M162.5 471.1h0M164.6 472.2h0M165.5 471.2h0M167.2 472.7h0M169.3 470.4h0M170.9 471.8h0M172.1 472.0h0M174.0 471.7h0M176.0 470.8h0M177.6 470.5h0M178.8 470.6h0M180.7 472.0h0M182.2 472.5h0M183.6 472.6h0M143.5 479.5h0M145.8 479.6h0M147.7 479.4h0M149.4 478.0h0M150.6 479.5h0M152.6 478.1h0M154.2 479.1h0M156.4 479.1h0M158.6 479.8h0M159.8 478.2h0M161.4 478.6h0M163.8 479.5h0M165.7 479.4h0M167.3 478.0h0M168.5 480.0h0M170.5 478.0h0M172.4 479.1h0M174.4 479.1h0M176.5 479.8h0M178.3 480.3h0M180.0 477.9h0M181.6 479.0h0M183.2 478.8h0M185.0 480.2h0M137.5 434.7h0M146.0 434.7h0M158.9 441.8h0M160.8 442.9h0M150.7 447.9h0M148.8 449.6h0M166.4 448.7h0M176.5 452.7h0M174.0 455.5h0M154.5 455.2h0M158.9 454.0h0M145.1 455.2h0M142.6 457.1h0M139.4 460.5h0M145.7 461.2h0M139.4 464.6h0M158.9 465.3h0M169.0 464.0h0M173.4 464.0h0M177.1 464.6h0M137.5 467.8h0M142.6 468.4h0M186.2 449.4h0M198.4 449.2h0M193.9 450.3h0M191.9 448.4h0M193.8 447.2h0M189.7 446.9h0M195.0 449.7h0M186.0 448.8h0M188.7 448.8h0M196.9 450.1h0M193.0 447.7h0M196.6 450.0h0M187.5 449.3h0M185.9 450.0h0M185.3 456.5h0M187.8 456.5h0M191.6 458.4h0M190.9 464.6h0M190.9 466.5h0M197.9 461.5h0M200.4 470.3h0M197.9 477.8h0M189.1 470.3h0M192.8 470.9h0M197.9 424.8h0M214.8 419.4h0M196.0 440.1h0M205.0 439.5h0M214.4 438.2h0M224.9 434.5h0M229.9 435.7h0M238.4 427.6h0M243.1 431.3h0M245.6 430.1h0M231.8 441.4h0M236.8 443.3h0M245.0 440.8h0M254.4 421.3h0M260.7 415.6h0M250.0 415.0h0M255.7 438.2h0M260.7 434.5h0M283.3 422.5h0M307.2 430.1h0M297.1 432.6h0M319.7 431.3h0M328.5 427.6h0M331.1 424.4h0M265.0 470.0h0M266.6 470.9h0M267.6 471.5h0M269.5 470.5h0M206.0 465.3h0M207.9 463.8h0M209.5 464.2h0M228.6 464.7h0M229.6 464.8h0M342.6 457.0h0M344.3 458.6h0M346.1 457.2h0M347.5 456.7h0M348.6 457.8h0M270.9 463.0h0M271.8 464.2h0M274.2 463.0h0M275.2 463.7h0M252.0 475.1h0M253.6 474.7h0M255.4 475.2h0M256.4 475.1h0M345.3 457.8h0M347.1 458.1h0M348.3 458.1h0M363.4 455.5h0M365.0 453.9h0M329.9 478.2h0M331.2 476.6h0M333.0 476.6h0M334.2 476.7h0M296.4 459.0h0M298.3 459.5h0M299.5 458.8h0M301.4 459.0h0M303.3 459.7h0M275.3 472.5h0M276.1 474.0h0M286.4 471.0h0M288.9 469.2h0M289.6 470.5h0M291.6 470.4h0M293.7 470.1h0M232.5 464.0h0M234.6 462.2h0M349.8 457.4h0M352.0 458.4h0M353.2 457.9h0M355.2 458.5h0M274.3 446.2h0M275.3 446.0h0M277.7 445.4h0M279.2 446.6h0M360.9 479.1h0M362.6 478.4h0M289.3 474.6h0M291.2 474.7h0M292.7 475.8h0M309.8 467.4h0M311.3 468.8h0M312.7 467.5h0M211.4 479.0h0M213.4 478.9h0M333.1 449.3h0M334.9 449.5h0M280.2 471.9h0M282.2 470.1h0M229.5 462.5h0M231.8 462.4h0M233.4 461.4h0M234.5 463.1h0M270.7 462.3h0M271.9 462.6h0M273.4 463.4h0M205.4 463.3h0M208.0 462.8h0M209.1 463.4h0M251.0 472.3h0M252.2 472.7h0M295.3 456.8h0M297.5 457.7h0M298.9 456.3h0M300.5 456.9h0M246.4 462.0h0M247.6 460.8h0M249.5 460.6h0M251.4 462.4h0M252.8 461.4h0M234.0 470.4h0M236.0 470.2h0M204.1 474.4h0M204.5 473.6h0M206.8 473.9h0M230.6 468.7h0M231.5 469.2h0M308.4 470.5h0M309.8 471.9h0M311.2 470.7h0M312.5 471.8h0M252.7 454.4h0M253.9 454.6h0M337.9 475.5h0M339.5 476.5h0M301.1 470.6h0M301.8 469.7h0M304.0 469.6h0M305.0 468.7h0M307.7 470.4h0M351.6 477.0h0M353.2 476.9h0M355.2 477.0h0M356.4 476.1h0M360.4 468.6h0M362.0 468.9h0M364.2 469.1h0M365.7 469.0h0M367.0 468.5h0M288.3 455.1h0M290.2 456.1h0M292.1 455.5h0M293.9 455.9h0M269.0 462.4h0M270.7 462.5h0M272.5 462.8h0M274.1 462.6h0M276.5 465.1h0M277.8 466.5h0M279.4 465.3h0M281.3 465.4h0M282.8 464.9h0M317.2 468.7h0M318.2 469.9h0M320.3 470.1h0M288.4 459.8h0M290.7 460.6h0M291.5 459.4h0M293.5 459.3h0M295.5 459.5h0M340.2 474.4h0M341.7 475.7h0M344.0 473.7h0M345.1 474.7h0M233.5 476.9h0M235.6 476.6h0M237.2 478.1h0M238.6 478.7h0M240.4 478.5h0M328.1 480.1h0M329.9 480.4h0M331.4 479.6h0M332.9 480.2h0M334.1 478.8h0M246.5 480.0h0M247.6 478.4h0M249.4 478.4h0M250.9 479.1h0M252.6 480.4h0M279.1 481.6h0M280.8 480.8h0M282.8 481.2h0M284.1 480.8h0M314.4 444.7h0M315.9 445.8h0M317.8 444.4h0M211.7 451.7h0M213.0 450.8h0M263.0 463.5h0M264.6 464.3h0M266.5 465.2h0M317.0 458.8h0M318.8 457.0h0M251.2 456.8h0M252.7 457.2h0M253.9 458.4h0M255.9 458.5h0M299.0 447.0h0M301.2 447.5h0M320.1 457.6h0M322.2 456.4h0M323.8 456.8h0M324.6 456.9h0M322.1 447.2h0M324.2 448.2h0M325.5 448.0h0M327.4 447.8h0M329.0 448.1h0M227.0 467.8h0M228.4 467.4h0M229.9 469.3h0M231.6 468.2h0M233.6 467.3h0M208.3 475.4h0M209.7 476.9h0M211.5 476.8h0M239.1 468.9h0M240.8 470.8h0M242.9 469.5h0M244.6 469.8h0M246.1 469.5h0M276.7 472.3h0M277.7 471.5h0M257.9 446.5h0M260.1 446.4h0M261.8 447.1h0M306.9 454.8h0M309.1 454.0h0M310.7 455.2h0M311.7 455.3h0M348.5 479.2h0M350.5 479.2h0M351.4 478.4h0M353.3 478.3h0M354.8 479.9h0M284.7 447.2h0M286.2 448.5h0M288.0 447.5h0M219.7 478.0h0M220.5 478.1h0M243.4 479.1h0M245.6 479.1h0M247.2 478.1h0M337.4 469.8h0M339.2 470.2h0M340.7 470.3h0M285.4 467.0h0M287.0 466.4h0M289.4 468.3h0M290.8 468.2h0M361.4 456.8h0M363.4 456.8h0M364.7 455.5h0M366.7 454.8h0M367.0 455.7h0M321.2 471.9h0M322.3 471.9h0M324.2 469.8h0M247.6 457.8h0M249.0 457.5h0M250.2 457.4h0M252.1 456.5h0M231.4 472.6h0M232.9 472.1h0M246.6 452.8h0M247.7 452.6h0M302.3 460.4h0M304.1 460.2h0M305.9 461.3h0M307.0 461.1h0M309.2 460.8h0M290.4 458.2h0M292.0 457.6h0M292.8 457.7h0M294.7 458.4h0M350.9 480.7h0M352.1 479.5h0M353.4 479.3h0M355.5 480.6h0M311.8 471.4h0M313.4 471.9h0M314.3 472.1h0M316.2 470.7h0M270.5 447.5h0M272.7 447.5h0M358.3 453.9h0M360.4 453.8h0M285.5 467.8h0M287.5 467.9h0M288.9 468.2h0M291.1 466.3h0M288.4 468.6h0M290.3 467.9h0M292.4 469.3h0M293.2 467.9h0M275.7 478.4h0M277.7 477.2h0M279.7 477.0h0M347.1 479.9h0M348.1 478.5h0M349.6 479.2h0M289.3 464.1h0M290.6 464.3h0M292.1 464.8h0M291.0 470.1h0M293.5 470.4h0M294.2 470.2h0M297.3 447.1h0M298.6 448.4h0M300.8 448.1h0M301.9 448.5h0M259.8 450.5h0M261.8 451.0h0M263.3 451.1h0M316.0 478.0h0M317.1 478.7h0M318.6 477.4h0M235.7 474.2h0M238.1 473.6h0M239.8 473.9h0M360.1 452.5h0M361.6 451.8h0M324.7 481.0h0M207.1 461.1h0M282.5 478.2h0M295.3 461.2h0M213.5 468.4h0M300.5 481.5h0M256.1 450.3h0M363.0 466.4h0M303.6 457.8h0M359.6 471.1h0M261.8 473.3h0M348.2 455.4h0M279.6 470.1h0M219.1 480.2h0M269.3 448.4h0M255.3 453.1h0M260.6 474.9h0M244.2 452.2h0M362.1 474.9h0M242.9 460.1h0M294.4 458.3h0M310.6 450.9h0M253.6 479.5h0M319.6 460.2h0M229.3 459.0h0M284.1 466.7h0M363.8 480.2h0M315.4 455.5h0M361.6 452.1h0M307.6 481.9h0M231.2 464.8h0M287.1 481.1h0M237.3 472.2h0M337.9 472.4h0M325.5 475.6h0M349.2 452.3h0M218.0 454.8h0M324.9 449.6h0M231.8 457.0h0M290.9 448.4h0M353.1 460.4h0M332.2 453.5h0M219.4 466.0h0M302.0 451.9h0M317.8 448.5h0M347.5 457.9h0M295.4 456.6h0M335.2 462.1h0M327.7 448.1h0M365.1 467.7h0M364.8 474.7h0M267.2 469.8h0M308.4 476.9h0M255.9 469.4h0M360.4 462.5h0M318.3 462.2h0M322.0 474.7h0M326.7 478.1h0M356.1 469.1h0M326.9 460.1h0M270.2 450.1h0M228.4 476.5h0M271.9 477.7h0M272.3 463.7h0M313.7 474.8h0M338.3 458.6h0M334.4 479.3h0M248.8 451.2h0M365.6 458.4h0M351.1 458.8h0M250.3 467.0h0M278.7 449.6h0M210.1 461.8h0M347.9 458.9h0M241.1 462.2h0M253.9 467.2h0M344.1 456.5h0M300.3 454.3h0M212.1 452.7h0M366.5 460.1h0M354.5 461.4h0M346.7 479.2h0M290.5 464.2h0M281.1 461.9h0M275.7 467.1h0M354.4 468.0h0M223.9 471.0h0M298.9 472.4h0M285.5 471.2h0M289.5 480.7h0M235.6 480.8h0M333.9 469.8h0M350.6 482.0h0M238.2 468.3h0M335.7 476.1h0M270.4 449.5h0M260.1 478.1h0M317.3 460.7h0M362.2 454.4h0M256.9 468.2h0M237.8 471.0h0M280.9 466.9h0M244.0 467.5h0M314.0 462.2h0M231.5 473.4h0M239.8 475.5h0M333.8 469.0h0M328.2 454.8h0M350.2 458.0h0M222.4 464.1h0M281.1 462.0h0M294.8 447.6h0M210.4 468.2h0M286.8 465.7h0M280.9 479.3h0M214.3 458.9h0M231.3 477.9h0M259.8 477.1h0M291.4 471.4h0M293.7 448.9h0M359.0 451.7h0M252.8 466.6h0M296.5 446.5h0M294.9 451.1h0M211.6 471.6h0M357.6 480.1h0M345.4 478.9h0M270.4 447.7h0M299.5 469.9h0M294.1 476.7h0M213.6 458.5h0M334.1 453.6h0M314.7 472.6h0M228.0 476.1h0M240.0 467.8h0M263.1 480.6h0M366.5 458.0h0M281.3 449.3h0M264.8 462.5h0M329.3 448.4h0M362.6 477.8h0M232.2 457.2h0M266.8 462.4h0M365.0 460.8h0M208.1 468.1h0M329.7 449.1h0M344.4 472.2h0M282.1 475.4h0M250.1 479.3h0M204.8 468.4h0M353.6 473.4h0M317.9 466.0h0M206.2 463.2h0M263.2 481.1h0M351.2 481.5h0M233.1 481.7h0M344.0 468.6h0M282.4 472.3h0M226.9 469.6h0M274.3 464.8h0M291.3 460.7h0M231.6 464.7h0M298.6 447.6h0M353.1 468.2h0M257.0 464.8h0M277.1 467.0h0M250.5 467.0h0M289.7 480.2h0M230.2 472.6h0M241.2 470.8h0M342.1 461.3h0M223.4 468.6h0M308.5 449.1h0M345.7 453.6h0M342.5 469.4h0M310.6 449.1h0M307.4 468.4h0M221.6 464.3h0M263.9 460.9h0M223.2 475.7h0M354.1 457.9h0M214.0 467.8h0M232.0 465.3h0M287.6 444.1h0M209.1 464.1h0M320.1 476.7h0M244.5 467.1h0M253.7 475.2h0M310.7 456.4h0M239.0 480.1h0M267.9 481.7h0M332.0 455.5h0M313.5 474.1h0M290.5 455.1h0M235.7 479.8h0M257.9 477.8h0M363.5 474.5h0M248.6 466.4h0M275.8 480.0h0M283.4 454.4h0M282.5 448.9h0M319.2 468.2h0M211.5 466.7h0M205.8 458.1h0M258.0 466.3h0M294.9 448.1h0M284.2 445.2h0M246.8 476.9h0M205.1 454.0h0M329.5 465.5h0M327.9 468.0h0M230.1 466.8h0M358.7 465.2h0M329.6 446.9h0M304.7 461.9h0M315.1 478.3h0M281.6 477.0h0M299.0 481.8h0M230.7 456.7h0M293.5 470.0h0M249.0 451.2h0M352.3 467.7h0M270.7 479.2h0M261.1 448.3h0M329.2 446.7h0M326.1 466.8h0M300.2 473.0h0M346.7 470.7h0M286.1 482.2h0M287.7 464.9h0M262.7 467.1h0M293.6 456.3h0M206.5 473.0h0M249.4 466.6h0M213.9 456.9h0M235.7 454.9h0M242.6 471.3h0M299.2 462.1h0M308.1 450.3h0M227.9 461.5h0M276.5 468.2h0M210.0 471.4h0M275.0 459.3h0M298.1 449.0h0M340.8 450.5h0M263.7 481.9h0M295.8 455.9h0M293.8 460.4h0M301.7 461.9h0M317.2 447.4h0M283.4 438.2h0M362.4 446.2h0M284.7 452.3h0M282.0 445.7h0M287.0 440.9h0M274.8 443.6h0M340.3 446.1h0M236.8 450.9h0M251.4 445.2h0M334.1 438.9h0M323.3 452.1h0M219.8 454.9h0M361.1 449.5h0M211.9 449.1h0M285.5 446.2h0M270.2 450.0h0M292.4 450.2h0M259.0 453.4h0M296.5 440.5h0M304.0 449.9h0M306.0 439.7h0M309.6 440.9h0M281.1 438.4h0M352.0 454.4h0M343.0 452.5h0M329.2 451.1h0M302.2 441.4h0M282.4 455.1h0M305.2 448.1h0M337.9 439.5h0M318.0 454.8h0M334.9 443.2h0M325.2 452.1h0M319.0 455.0h0M366.9 452.3h0M355.2 448.3h0M312.0 440.3h0M294.0 439.4h0M215.8 450.0h0M284.5 450.0h0M280.4 437.9h0M303.6 442.1h0M271.6 445.9h0M294.1 442.9h0M353.2 453.6h0M337.5 423.9h0M340.0 424.1h0M340.9 423.6h0M343.2 423.3h0M346.2 423.6h0M347.4 424.2h0M350.3 424.4h0M352.2 423.4h0M354.4 424.2h0M356.3 424.1h0M357.9 423.6h0M361.2 423.3h0M362.8 424.2h0M364.6 424.0h0M367.5 423.2h0M338.6 427.6h0M342.4 427.9h0M346.1 428.8h0M336.1 428.2h0M499.6 455.1h0M513.8 437.9h0M509.4 449.2h0M504.3 445.0h0M505.8 434.8h0M504.5 440.6h0M508.3 436.6h0M504.2 434.1h0M499.5 441.7h0M504.5 447.7h0M366.5 424.2h0M369.7 424.0h0M372.0 423.5h0M373.4 423.1h0M376.2 423.9h0M377.6 424.1h0M380.4 424.2h0M382.5 423.1h0M384.6 423.1h0M387.4 423.6h0M389.5 424.1h0M392.0 423.6h0M394.4 423.8h0M396.5 424.0h0M398.9 423.0h0M387.4 426.6h0M397.0 424.9h0M387.7 425.0h0M390.8 422.3h0M393.6 420.8h0M386.3 425.6h0M386.1 426.3h0M393.5 426.8h0M383.5 422.3h0M379.7 425.0h0M389.4 425.6h0M391.2 421.3h0M394.0 425.3h0M392.2 427.2h0M389.2 428.0h0M378.9 423.2h0M372.0 461.2h0M373.5 461.5h0M378.5 470.7h0M380.0 470.0h0M371.5 474.6h0M373.0 475.3h0M374.3 474.8h0M376.4 474.5h0M376.3 459.3h0M377.9 457.9h0M379.2 458.1h0M381.3 459.0h0M381.0 467.7h0M382.9 465.8h0M384.3 467.0h0M367.0 471.8h0M367.6 470.7h0M369.3 470.3h0M371.2 471.6h0M372.8 471.0h0M367.0 469.5h0M367.3 470.2h0M369.5 470.5h0M370.8 470.7h0M372.5 469.5h0M375.6 478.8h0M377.0 478.6h0M379.2 479.5h0M367.4 445.6h0M369.1 444.1h0M371.3 445.2h0M372.7 445.9h0M374.8 444.9h0M377.3 456.7h0M378.8 458.1h0M380.4 456.2h0M385.5 450.2h0M379.1 448.3h0M367.7 464.6h0M371.6 441.3h0M383.5 481.5h0M374.1 458.1h0M373.5 451.1h0M382.6 453.1h0M367.1 480.8h0M369.3 449.2h0M378.9 476.7h0M373.2 448.5h0M370.7 462.1h0M377.9 452.2h0M376.9 465.1h0M368.3 442.5h0M385.3 453.8h0M379.0 476.2h0M376.7 452.4h0M383.0 447.7h0M378.5 477.7h0M384.1 481.6h0M380.9 465.5h0M374.0 465.8h0M378.5 481.2h0M374.4 473.4h0M370.5 460.2h0M373.2 472.5h0M369.3 442.5h0M377.5 477.5h0M369.1 452.0h0M379.6 469.3h0M368.2 452.1h0M371.7 482.6h0M374.5 432.0h0M379.6 437.6h0M384.6 440.8h0M390.9 435.7h0M397.2 434.5h0M405.3 433.8h0M407.2 425.7h0M411.0 425.7h0M400.9 440.1h0M403.4 441.4h0M407.2 443.3h0M407.8 445.8h0M406.0 448.9h0M404.1 450.8h0M401.6 452.1h0M395.9 456.5h0M400.3 456.5h0M394.0 459.0h0M398.4 461.5h0M393.3 468.3h0M394.2 464.9h0M391.2 467.6h0M393.9 476.5h0M393.9 464.1h0M397.1 468.6h0M386.5 467.0h0M397.2 473.5h0M389.8 478.6h0M403.0 482.0h0M394.1 468.4h0M394.3 471.6h0M397.1 470.1h0M400.7 473.1h0M399.8 479.9h0M396.9 477.4h0M386.6 465.4h0M386.6 470.2h0M391.2 468.2h0M398.8 479.6h0M400.7 474.3h0M387.7 471.7h0M399.7 477.0h0M390.4 469.7h0M402.6 465.1h0M386.2 476.9h0M390.5 467.4h0M388.4 469.9h0M387.4 468.7h0M390.1 466.2h0M402.4 477.1h0M394.9 474.6h0M396.0 471.9h0M392.5 477.3h0M387.0 478.5h0M396.1 469.8h0M389.9 468.7h0M391.2 470.1h0M391.0 477.9h0M401.0 478.5h0M402.9 479.2h0M406.3 479.7h0M407.7 480.9h0M409.8 478.5h0M412.4 481.3h0M414.6 479.2h0M417.1 480.8h0M419.6 479.4h0M421.1 480.8h0M424.2 480.9h0M426.0 480.9h0M429.0 479.4h0M431.2 480.2h0M432.5 481.3h0M435.6 480.3h0M436.9 479.7h0M440.2 480.6h0M442.1 479.2h0M443.9 480.5h0M446.4 481.3h0M448.6 480.9h0M451.4 479.7h0M453.4 481.7h0M455.2 481.6h0M457.3 480.6h0M459.7 478.4h0M461.9 481.7h0M464.7 479.1h0M466.8 481.7h0M468.8 481.3h0M470.9 480.7h0M473.5 481.6h0M422.4 431.3h0M426.0 430.7h0M427.4 429.4h0M423.8 429.9h0M426.7 430.4h0M422.5 430.8h0M427.3 430.6h0M446.2 430.7h0M448.7 430.7h0M422.8 445.9h0M423.8 447.9h0M426.0 445.4h0M427.7 446.3h0M430.3 447.1h0M432.5 448.7h0M434.4 446.0h0M435.7 446.3h0M438.0 448.2h0M440.6 447.5h0M442.6 446.6h0M443.6 447.4h0M446.4 447.7h0M448.0 447.9h0M450.1 447.0h0M451.8 448.3h0M454.5 447.9h0M455.6 448.2h0M458.5 447.6h0M460.0 445.7h0M427.3 448.9h0M429.8 450.8h0M432.3 452.7h0M434.9 454.0h0M442.4 416.3h0M445.5 418.8h0M446.2 421.3h0M459.4 418.8h0M466.3 419.4h0M465.0 423.2h0M463.1 425.1h0M463.8 430.1h0M461.0 439.1h0M456.3 440.1h0M461.7 438.0h0M450.5 439.1h0M446.0 437.8h0M450.7 438.1h0M451.9 436.5h0M461.4 437.3h0M451.7 438.5h0M457.7 438.2h0M443.4 458.8h0M431.4 477.4h0M463.6 454.6h0M445.1 476.2h0M434.6 452.2h0M435.4 463.7h0M470.5 461.1h0M446.3 458.3h0M434.5 461.6h0M473.5 461.3h0M440.9 467.2h0M470.4 468.5h0M445.1 457.2h0M461.4 451.4h0M436.7 451.9h0M436.8 459.5h0M458.1 476.1h0M470.5 454.2h0M445.3 465.9h0M463.1 473.4h0M458.8 476.8h0M468.3 460.4h0M442.3 465.4h0M467.1 475.9h0M469.1 455.2h0M438.7 460.8h0M456.3 467.3h0M471.8 461.4h0M429.5 453.2h0M433.2 465.1h0M449.6 468.6h0M432.1 472.8h0M436.5 474.0h0M435.1 472.1h0M464.2 473.0h0M462.2 472.4h0M448.9 466.6h0M446.1 466.8h0M460.8 459.5h0M446.0 458.2h0M458.3 468.6h0M429.6 469.7h0M430.6 452.4h0M459.7 466.4h0M469.0 467.6h0M463.4 464.1h0M447.3 469.0h0M434.5 472.0h0M464.1 458.8h0M439.0 475.6h0M465.6 445.8h0M473.2 444.9h0M479.7 442.9h0M482.6 462.8h0M488.3 472.8h0M498.9 416.3h0M502.1 418.8h0M498.9 423.2h0M500.2 425.7h0M501.5 427.6h0M512.8 417.5h0M513.4 420.0h0M510.3 423.2h0M507.7 427.6h0M510.3 429.5h0M511.5 431.3h0M506.5 438.2h0M510.3 437.6h0M511.5 437.0h0M498.9 442.0h0M510.9 444.5h0M510.9 447.7h0M504.6 448.3h0M518.7 447.9h0M498.3 452.7h0M510.9 452.7h0M510.9 455.2h0M504.6 458.4h0M510.9 458.4h0M508.2 473.4h0M507.3 469.8h0M498.6 477.8h0M497.5 465.1h0M510.6 460.8h0M508.8 473.9h0M510.6 470.6h0M499.4 471.5h0M510.7 466.8h0M509.9 465.9h0M505.5 466.6h0M503.7 476.6h0M497.5 460.0h0M506.3 477.6h0M499.6 463.8h0M504.2 476.2h0M499.1 472.4h0M502.6 472.8h0M511.5 475.7h0M500.8 463.4h0M505.4 470.3h0M500.4 464.8h0M513.1 459.6h0M508.8 473.6h0M507.5 472.3h0M502.0 464.2h0M506.7 463.0h0M503.5 471.7h0M507.9 459.5h0M497.9 475.6h0M507.8 467.0h0M509.6 468.8h0M504.3 464.0h0M502.7 461.4h0M513.7 469.4h0M503.0 463.2h0M511.2 459.6h0M502.6 464.4h0M504.9 464.1h0M502.2 464.8h0M498.0 475.9h0M507.8 470.3h0M507.8 472.2h0M511.3 467.1h0M497.6 468.0h0M506.1 466.0h0M510.7 472.2h0M504.6 473.6h0M498.5 473.2h0M504.4 471.5h0M504.0 481.0h0M517.8 476.2h0M500.2 479.7h0M511.5 479.1h0M561.1 420.0h0M566.8 415.6h0M556.1 430.7h0M555.5 432.6h0M554.2 434.5h0M580.0 428.8h0M591.9 423.8h0M595.1 420.7h0M600.7 417.5h0M597.0 431.3h0M602.0 430.7h0M591.9 435.1h0M576.2 437.6h0M583.8 437.6h0M586.3 441.4h0M590.0 440.1h0M563.0 440.1h0M546.7 445.2h0M550.5 446.2h0M558.0 448.3h0M561.8 448.9h0M564.9 446.4h0M567.4 448.3h0M573.1 445.8h0M576.2 446.4h0M579.4 446.4h0M580.6 448.3h0M580.6 450.8h0M571.2 454.6h0M589.4 457.1h0M595.1 456.5h0M600.7 458.4h0M602.0 454.0h0M599.5 465.3h0M558.6 476.6h0M558.6 479.1h0M558.6 481.6h0M547.9 468.0h0M549.8 467.7h0M550.6 469.4h0M552.9 468.2h0M554.6 467.5h0M561.6 470.5h0M563.1 468.7h0M565.3 470.1h0M574.8 470.3h0M576.3 471.0h0M600.9 476.6h0M602.7 476.7h0M587.1 475.1h0M588.5 473.5h0M590.2 474.8h0M546.1 457.8h0M546.1 457.0h0M547.0 458.3h0M597.6 475.1h0M599.8 475.2h0M601.1 474.1h0M603.2 474.0h0M604.0 473.8h0M565.4 478.5h0M567.2 480.3h0M568.8 478.7h0M570.0 478.8h0M571.7 479.2h0M546.1 476.9h0M546.1 478.1h0M547.4 478.3h0M549.1 478.4h0M546.1 478.4h0M546.1 477.5h0M547.4 477.3h0M550.9 463.0h0M552.4 464.3h0M554.1 463.9h0M599.0 473.5h0M600.7 473.6h0M601.5 473.2h0M556.1 470.9h0M558.0 470.6h0M559.9 470.0h0M561.0 469.7h0M563.2 470.1h0M568.5 477.8h0M570.7 478.6h0M572.0 476.7h0M573.5 477.6h0M558.6 474.9h0M571.2 465.8h0M567.8 466.2h0M551.5 476.1h0M567.6 463.8h0M571.2 477.1h0M562.4 475.6h0M575.0 465.0h0M577.7 468.8h0M555.6 470.5h0M546.9 465.2h0M561.1 479.0h0M559.3 471.3h0M555.7 463.8h0M601.2 476.5h0M556.5 481.4h0M546.3 475.6h0M550.2 477.1h0M563.0 472.3h0M589.9 478.3h0M552.9 459.1h0M584.7 480.4h0M589.5 479.4h0M546.1 477.4h0M563.7 479.7h0M580.4 481.4h0M556.1 464.7h0M563.4 477.3h0M579.8 469.0h0M559.9 471.8h0M581.2 476.8h0M575.6 466.8h0M570.1 478.7h0M556.1 480.3h0M596.2 478.6h0M579.3 477.7h0M550.5 464.1h0M548.1 471.0h0M575.6 470.9h0M594.4 479.0h0M569.3 469.9h0M570.4 481.3h0M549.9 467.8h0M574.1 475.4h0M549.8 458.1h0M549.6 474.4h0M549.9 475.5h0M572.4 466.8h0M558.6 467.0h0M589.2 474.8h0M577.4 477.8h0M586.4 471.6h0M558.6 465.1h0M551.6 476.2h0M563.1 475.4h0M554.0 461.6h0M591.5 481.2h0M554.2 462.5h0M592.8 480.7h0M556.8 477.3h0M601.5 478.2h0M553.6 468.2h0M571.6 464.6h0M548.1 457.5h0M577.0 479.3h0M563.3 477.6h0M565.0 479.7h0M566.3 480.0h0M568.3 479.8h0M569.2 477.2h0M571.5 478.7h0M573.0 477.3h0M574.1 478.7h0M575.7 478.2h0M577.4 479.4h0M579.9 478.5h0M581.3 480.0h0M582.4 479.5h0M584.5 479.6h0M586.1 477.4h0M587.6 477.1h0M589.6 476.7h0M591.0 478.2h0M592.4 479.9h0M594.3 479.4h0M596.3 479.2h0M597.8 478.6h0M599.1 479.9h0M601.0 478.3h0M602.2 478.8h0M604.1 477.7h0M604.2 477.9h0M605.3 479.9h0M605.9 479.7h0M607.3 478.5h0M608.6 477.5h0M609.4 477.3h0M610.5 478.8h0M611.8 480.4h0M613.1 479.9h0M614.0 479.0h0M615.1 477.3h0M616.8 480.3h0M617.9 478.2h0M619.1 480.2h0M619.8 480.3h0M620.7 477.4h0M622.3 479.1h0M623.3 477.4h0M624.4 479.0h0M625.8 479.0h0M626.5 479.8h0M628.0 479.4h0M629.0 479.7h0M630.4 477.9h0M631.0 478.3h0M632.1 480.4h0M633.8 479.0h0M634.8 477.5h0M636.0 480.0h0M637.0 480.3h0M637.8 479.2h0M639.5 478.6h0M640.5 477.8h0M641.5 480.2h0M642.7 480.4h0M643.8 477.6h0M644.5 478.3h0M645.6 478.8h0M647.1 477.8h0M648.0 480.2h0M649.3 478.4h0M650.3 479.1h0M651.7 479.6h0M653.1 477.5h0M653.7 478.9h0M654.9 479.7h0M655.8 478.9h0M657.2 478.7h0M658.7 478.0h0M659.8 480.0h0M660.8 477.7h0M661.6 479.9h0M627.9 476.4h0M632.9 476.8h0M639.6 477.1h0M642.4 476.5h0M646.7 475.7h0M651.3 476.6h0M656.3 476.6h0M661.4 477.1h0M671.7 473.0h0M672.3 470.0h0M664.7 472.7h0M660.9 472.2h0M658.1 473.6h0M665.7 476.0h0M663.9 477.2h0M672.1 471.8h0M660.8 479.5h0M659.8 479.2h0M670.6 470.7h0M670.2 473.3h0M667.5 478.7h0M667.1 474.6h0M659.6 479.8h0M659.4 474.8h0M669.7 477.9h0M674.0 472.4h0M667.5 476.2h0M654.8 477.5h0M657.1 480.8h0M674.1 479.2h0M670.6 477.7h0M665.3 475.6h0M664.2 480.5h0M661.2 475.8h0M668.9 472.9h0M663.4 473.1h0M658.9 476.9h0M660.5 473.3h0M669.6 478.8h0M668.9 467.1h0M661.2 474.3h0M667.0 476.9h0M668.5 472.4h0M663.4 472.9h0M669.3 480.2h0M664.3 472.0h0M657.7 480.5h0M658.8 476.6h0M607.8 423.8h0M610.9 425.1h0M611.5 427.6h0M619.1 423.8h0M622.2 425.1h0M632.9 423.2h0M638.6 430.7h0M640.4 415.6h0M624.1 447.7h0M635.4 447.7h0M617.8 455.2h0M621.6 458.4h0M637.3 458.4h0M640.4 454.6h0M644.2 452.7h0M647.4 452.7h0M606.5 452.7h0M615.3 467.1h0M622.8 466.5h0M629.1 466.5h0M637.3 465.9h0M609.0 470.9h0M641.7 470.3h0M654.3 416.3h0M656.8 418.8h0M655.5 423.2h0M656.1 427.6h0M654.9 434.5h0M654.3 437.6h0M657.4 440.1h0M659.3 444.5h0M658.0 448.3h0M662.4 445.2h0M665.6 445.2h0M661.2 453.3h0M663.1 456.5h0M697.3 466.2h0M698.8 465.1h0M731.2 444.8h0M732.3 445.3h0M733.9 443.9h0M735.7 444.7h0M712.1 457.8h0M713.3 459.3h0M714.8 459.5h0M723.6 450.2h0M726.0 449.4h0M727.8 448.2h0M715.7 465.4h0M716.9 466.0h0M734.9 481.4h0M736.6 481.5h0M756.6 476.8h0M759.1 476.8h0M759.8 475.3h0M676.9 472.3h0M679.2 473.3h0M680.2 472.2h0M681.5 473.6h0M683.6 472.1h0M723.1 470.6h0M724.0 470.9h0M725.4 471.4h0M727.7 472.3h0M729.4 471.1h0M691.1 481.1h0M693.6 481.6h0M695.3 481.6h0M697.0 481.6h0M757.6 470.9h0M760.2 470.2h0M761.4 471.0h0M762.5 470.4h0M764.9 471.1h0M736.7 472.6h0M738.1 472.0h0M685.8 444.1h0M687.0 444.1h0M724.4 450.2h0M725.9 450.1h0M727.3 449.2h0M690.6 444.3h0M691.8 445.2h0M694.0 444.2h0M695.0 444.5h0M748.0 472.8h0M749.7 472.8h0M751.8 472.7h0M718.5 448.2h0M719.5 448.2h0M690.1 478.8h0M691.2 478.9h0M693.6 480.5h0M695.0 478.7h0M696.4 479.6h0M677.4 463.2h0M679.2 462.7h0M680.5 462.5h0M682.5 461.9h0M756.4 450.5h0M757.5 451.2h0M759.0 451.6h0M760.3 452.8h0M762.3 451.5h0M763.4 453.5h0M744.9 452.5h0M746.6 452.1h0M729.2 473.3h0M731.0 471.7h0M732.8 472.7h0M734.0 473.0h0M735.9 471.2h0M704.9 455.8h0M707.1 456.8h0M708.4 455.8h0M710.0 456.9h0M711.3 455.5h0M737.9 443.4h0M739.9 443.0h0M673.8 446.3h0M675.2 445.2h0M676.4 444.7h0M677.8 446.8h0M699.8 464.5h0M702.3 464.3h0M703.6 464.1h0M705.5 464.7h0M706.9 464.5h0M749.0 458.1h0M750.6 458.9h0M752.1 458.1h0M753.5 458.5h0M755.0 459.1h0M711.5 458.3h0M712.9 458.6h0M727.1 463.5h0M728.5 463.3h0M695.0 449.2h0M697.4 447.7h0M698.7 447.8h0M699.7 447.6h0M702.1 447.6h0M710.5 459.6h0M712.2 460.0h0M714.2 459.9h0M716.1 458.8h0M712.3 474.3h0M714.0 475.3h0M715.4 474.6h0M744.5 480.3h0M746.1 480.4h0M747.7 480.2h0M681.8 460.7h0M683.4 460.7h0M685.4 462.0h0M686.8 461.1h0M702.7 454.7h0M703.6 455.1h0M674.4 444.6h0M676.2 445.9h0M677.3 445.3h0M678.6 445.9h0M677.4 463.4h0M678.6 463.1h0M710.2 440.2h0M711.8 440.4h0M713.4 442.2h0M714.9 440.4h0M717.4 441.5h0M717.9 478.3h0M719.0 478.3h0M721.1 476.6h0M722.9 478.2h0M715.4 474.6h0M717.2 473.9h0M718.8 475.0h0M720.3 474.6h0M738.1 454.2h0M739.3 455.1h0M680.0 458.7h0M681.1 459.0h0M683.4 459.2h0M671.9 454.6h0M673.0 454.3h0M674.3 453.8h0M676.7 453.3h0M754.2 462.8h0M755.6 463.8h0M757.6 464.3h0M758.8 463.4h0M760.0 463.8h0M755.7 480.4h0M757.4 480.1h0M758.6 479.8h0M761.2 479.6h0M762.1 479.3h0M676.5 441.6h0M678.5 442.9h0M680.0 443.1h0M681.4 441.5h0M683.0 442.2h0M766.9 460.0h0M769.3 460.2h0M770.9 458.9h0M772.3 458.6h0M680.1 468.0h0M681.4 468.6h0M682.7 467.3h0M684.7 469.0h0M701.5 460.8h0M703.1 460.9h0M704.2 461.2h0M686.1 477.6h0M688.2 477.0h0M689.9 477.4h0M672.2 456.0h0M673.7 456.9h0M675.6 456.7h0M676.7 456.5h0M747.9 448.0h0M749.9 448.5h0M751.6 448.3h0M716.3 440.6h0M717.9 440.4h0M720.0 442.5h0M721.6 441.4h0M672.1 437.3h0M673.8 436.1h0M674.9 436.2h0M724.6 449.2h0M726.9 449.6h0M744.4 442.5h0M746.3 442.6h0M747.8 441.6h0M749.8 441.8h0M707.4 479.2h0M708.1 479.4h0M710.4 480.0h0M711.4 479.5h0M707.9 480.9h0M709.0 478.9h0M710.7 480.8h0M712.6 479.1h0M682.7 435.9h0M684.2 436.8h0M685.3 437.3h0M687.4 436.1h0M688.9 435.8h0M732.5 471.2h0M734.3 469.5h0M736.1 469.8h0M737.8 470.1h0M671.9 450.6h0M673.1 450.6h0M675.2 451.8h0M677.0 450.6h0M719.4 447.1h0M720.2 448.6h0M753.1 456.5h0M754.8 456.6h0M686.0 444.8h0M687.5 444.5h0M689.0 445.6h0M679.3 457.4h0M681.7 458.9h0M682.5 458.4h0M722.2 477.7h0M738.3 442.1h0M738.4 464.3h0M700.8 480.1h0M673.6 469.1h0M757.3 470.3h0M710.6 465.0h0M741.9 446.2h0M701.0 443.1h0M726.2 449.6h0M758.6 480.6h0M722.4 477.2h0M748.5 466.1h0M696.0 481.7h0M685.8 464.6h0M702.3 475.2h0M727.3 449.9h0M684.8 449.9h0M746.5 476.0h0M674.3 480.7h0M771.1 458.5h0M686.1 438.0h0M748.5 471.8h0M750.5 481.6h0M741.2 473.0h0M738.3 449.7h0M698.4 441.7h0M679.8 441.2h0M679.6 465.3h0M772.6 481.4h0M695.9 447.4h0M689.6 466.3h0M714.4 472.1h0M746.9 474.8h0M764.3 456.2h0M684.2 477.3h0M766.9 460.9h0M676.5 480.5h0M692.8 435.4h0M715.7 445.0h0M701.8 447.8h0M706.7 469.8h0M742.4 468.5h0M683.4 462.6h0M731.3 475.8h0M757.9 449.4h0M685.6 469.3h0M674.7 442.7h0M712.4 476.5h0M751.9 444.6h0M747.8 452.1h0M734.3 472.4h0M734.5 459.9h0M747.1 473.3h0M763.9 472.9h0M692.7 478.8h0M703.4 474.9h0M709.1 441.6h0M725.2 470.7h0M688.8 478.0h0M730.7 443.9h0M761.8 470.5h0M704.4 440.8h0M714.3 448.5h0M746.6 444.9h0M767.7 460.2h0M750.1 451.5h0M702.0 475.3h0M673.9 450.8h0M768.7 479.7h0M766.3 463.5h0M680.7 478.7h0M765.5 480.7h0M682.8 474.7h0M726.9 460.7h0M702.2 453.3h0M721.8 472.0h0M678.7 449.5h0M750.1 473.9h0M729.1 477.7h0M741.2 469.6h0M704.0 465.7h0M743.3 474.4h0M695.6 475.8h0M734.6 463.7h0M744.7 466.7h0M757.7 452.8h0M697.8 470.5h0M768.4 464.4h0M731.5 443.0h0M677.3 465.6h0M741.5 448.2h0M693.5 482.2h0M725.9 444.8h0M685.0 441.7h0M751.3 482.1h0M732.6 474.8h0M673.4 482.2h0M681.5 476.8h0M684.1 473.2h0M684.3 452.5h0M686.6 468.6h0M757.8 458.0h0M721.0 460.5h0M694.7 471.9h0M729.9 462.6h0M761.5 458.6h0M716.9 477.9h0M703.9 449.5h0M684.4 469.6h0M706.8 460.2h0M771.0 469.8h0M738.9 442.2h0M759.3 472.0h0M680.4 465.0h0M673.5 473.9h0M696.3 455.8h0M695.4 461.2h0M724.4 459.6h0M761.3 450.4h0M722.1 461.1h0M702.5 458.7h0M761.8 479.3h0M750.9 448.1h0M771.4 462.8h0M749.8 467.2h0M764.1 462.6h0M753.5 475.4h0M719.8 476.9h0M721.3 465.8h0M701.2 454.1h0M771.8 477.7h0M764.2 473.2h0M677.1 472.6h0M737.3 454.2h0M748.3 446.8h0M726.0 481.5h0M680.6 455.5h0M763.1 482.0h0M680.8 451.6h0M757.0 463.1h0M699.8 440.4h0M760.2 450.1h0M731.4 445.5h0M747.0 479.0h0M723.2 475.4h0M771.0 468.0h0M744.1 465.9h0M753.9 482.0h0M753.0 444.1h0M694.3 470.2h0M684.7 443.1h0M702.1 481.2h0M690.4 437.1h0M702.4 437.9h0M701.3 441.4h0M758.9 467.7h0M688.8 441.8h0M709.8 441.9h0M733.2 470.7h0M701.7 445.7h0M707.5 446.6h0M738.4 481.8h0M705.2 447.9h0M690.5 448.5h0M715.2 475.2h0M751.2 470.3h0M762.6 478.7h0M683.0 465.1h0M699.9 438.9h0M762.9 459.8h0M679.6 477.3h0M739.5 481.1h0M752.8 460.2h0M688.3 447.8h0M713.9 479.5h0M745.5 457.9h0M700.7 458.6h0M720.2 447.7h0M745.8 480.4h0M712.6 447.9h0M771.1 456.3h0M688.7 468.0h0M708.0 462.8h0M754.1 450.1h0M709.9 475.0h0M735.7 448.3h0M771.6 477.8h0M686.0 444.2h0M748.4 476.8h0M704.3 442.9h0M706.2 446.0h0M707.4 444.3h0M709.0 444.9h0M710.0 445.2h0M711.6 445.6h0M713.2 445.6h0M714.9 443.4h0M716.5 445.4h0M717.3 443.8h0M719.3 443.8h0M720.4 443.1h0M722.3 443.8h0M723.5 443.7h0M724.5 445.4h0M726.0 444.6h0M727.5 445.6h0M728.9 446.1h0M730.5 443.1h0M731.9 442.8h0M733.4 445.1h0M734.6 444.5h0M736.0 444.2h0M738.1 443.7h0M739.6 445.4h0M740.3 445.5h0M742.0 443.7h0M743.3 445.3h0M745.2 445.0h0M746.7 444.2h0M747.6 443.0h0M749.5 444.0h0M751.0 444.3h0M752.4 443.0h0M767.2 479.5h0M766.3 457.5h0M749.9 465.9h0M751.5 468.3h0M764.7 464.8h0M763.4 481.6h0M766.9 465.3h0M762.0 468.8h0M759.7 467.7h0M771.8 463.1h0M765.9 461.2h0M770.0 468.5h0M749.8 460.8h0M753.1 479.9h0M772.7 461.1h0M760.3 468.0h0M749.5 462.3h0M763.7 481.9h0M769.8 464.6h0M765.5 460.5h0M761.9 461.9h0M765.5 479.3h0M772.3 467.4h0M753.5 464.8h0M750.4 462.3h0M764.4 465.0h0M754.9 463.6h0M754.9 478.1h0M752.4 479.4h0M765.8 458.1h0M750.9 460.2h0M752.8 480.3h0M755.0 464.6h0M759.7 473.1h0M752.7 461.0h0M758.0 464.7h0M751.8 458.6h0M756.9 472.9h0M765.8 477.3h0M770.0 461.1h0M761.7 481.8h0M760.6 478.7h0M767.1 459.5h0M768.7 473.0h0M759.4 462.0h0M762.8 477.0h0M752.3 472.3h0M772.6 481.5h0M760.5 458.5h0M749.5 465.1h0M756.5 459.0h0M762.5 461.3h0M755.2 473.4h0M754.0 464.2h0M766.0 461.1h0M749.1 466.4h0M761.4 482.0h0M759.6 469.6h0M757.2 472.0h0M764.0 467.1h0M688.5 465.0h0M685.1 463.0h0M737.2 464.8h0M696.7 470.2h0M694.6 466.2h0M726.0 470.8h0M718.9 458.6h0M746.2 462.7h0M733.9 463.2h0M695.1 466.9h0M709.3 463.6h0M685.9 465.7h0M729.9 481.0h0M686.5 470.8h0M688.0 470.9h0M718.8 480.6h0M697.1 462.8h0M731.0 475.8h0M724.7 470.1h0M741.4 473.6h0M697.9 478.0h0M704.3 460.4h0M687.8 466.7h0M687.6 459.4h0M729.0 459.0h0M722.7 478.6h0M742.5 478.3h0M695.7 474.4h0M696.4 478.1h0M743.6 466.9h0M730.6 472.0h0M739.1 458.4h0M713.6 472.7h0M732.5 472.2h0M695.7 475.3h0M743.2 478.4h0M741.3 459.4h0M686.9 472.1h0M702.3 466.7h0M689.1 470.5h0M676.9 426.3h0M678.1 428.8h0M683.2 420.0h0M685.7 422.5h0M684.4 431.3h0M694.5 420.7h0M697.0 421.3h0M700.8 423.8h0M704.5 423.8h0M697.6 428.8h0M697.0 432.6h0M669.3 435.1h0M669.3 441.4h0M710.8 434.5h0M717.1 434.5h0M726.5 436.4h0M737.2 437.6h0M748.5 440.1h0M760.4 438.9h0M713.3 420.0h0M712.1 423.2h0M749.1 422.5h0M770.9 426.1h0M792.5 428.6h0M800.0 428.8h0M802.5 428.2h0M805.1 427.6h0M783.7 443.7h0M788.1 442.9h0M793.1 441.6h0M786.8 452.7h0M787.5 469.7h0M792.5 470.3h0M800.7 445.2h0M803.8 445.8h0M796.3 448.9h0M803.8 452.7h0M795.0 452.7h0M793.7 456.5h0M802.5 457.7h0M805.1 460.2h0M792.5 461.5h0M795.0 465.3h0M803.8 465.3h0M802.5 469.0h0M803.2 472.2h0M793.7 475.3h0M793.7 477.8h0M798.1 447.0h0M799.4 451.4h0M797.5 455.2h0M800.0 459.0h0M801.9 462.8h0M793.1 459.0h0M805.1 455.2h0M805.7 451.4h0M795.6 469.0h0M791.9 472.8h0" fill="none" stroke="#5F70A0" stroke-width="5" stroke-linecap="round"/>
<path d="M104.1 64.6V501.85H839.2" fill="none" stroke="#1a1a1a" stroke-width="2" stroke-linejoin="round"/>
<path d="M99.3 482.0H104M99.3 372.8H104M99.3 263.6H104M99.3 154.4H104M192.6 501.8V505.8M359.9 501.8V505.8M527.2 501.8V505.8M694.5 501.8V505.8" fill="none" stroke="#1a1a1a" stroke-width="2"/>
<text x="88.7" y="490.4" font-size="27.9" text-anchor="end">0.0</text>
<text x="88.7" y="381.2" font-size="27.9" text-anchor="end">2.5</text>
<text x="88.7" y="272.0" font-size="27.9" text-anchor="end">5.0</text>
<text x="88.7" y="162.8" font-size="27.9" text-anchor="end">7.5</text>
<text x="192.6" y="536.9" font-size="28.2" text-anchor="middle">84.0</text>
<text x="359.9" y="536.9" font-size="28.2" text-anchor="middle">84.5</text>
<text x="527.2" y="536.9" font-size="28.2" text-anchor="middle">85.0</text>
<text x="694.5" y="536.9" font-size="28.2" text-anchor="middle">85.5</text>
<text x="363" y="574.7" font-size="27.7" textLength="161.5" lengthAdjust="spacing">Position (Mb)</text>
<text transform="translate(22.3 375.4) rotate(-90)" font-size="27.7"><tspan font-size="31" dy="0.9">–</tspan><tspan dy="-0.9">log</tspan><tspan dx="2.1" dy="8.7" font-size="17.7">10</tspan><tspan dy="-8.7" dx="-3.6"> (</tspan><tspan dx="3.7" font-style="italic">p</tspan>value)</text>
</g>
<g id="panel-b">
<text x="875.3" y="29.3" font-size="40" font-weight="bold">b</text>
<text x="1286" y="35" font-size="24">Tissues</text>
<rect x="1378" y="15" width="22.2" height="21.7" fill="#F7E98E"/>
<text x="1406.2" y="32.8" font-size="17.5">Brain</text>
<rect x="1461.2" y="15" width="22.8" height="21.7" fill="#B0B0B0"/>
<text x="1490.7" y="32.8" font-size="17.5">Non brain</text>
<rect x="963.05" y="74.80" width="19.20" height="188.20" fill="#F7E98E"/>
<rect x="986.42" y="87.90" width="19.20" height="175.10" fill="#F7E98E"/>
<rect x="1009.79" y="91.00" width="19.20" height="172.00" fill="#F7E98E"/>
<rect x="1033.16" y="102.40" width="19.20" height="160.60" fill="#F7E98E"/>
<rect x="1056.53" y="110.80" width="19.20" height="152.20" fill="#F7E98E"/>
<rect x="1079.90" y="131.70" width="19.20" height="131.30" fill="#F7E98E"/>
<rect x="1103.27" y="147.30" width="19.20" height="115.70" fill="#F7E98E"/>
<rect x="1126.64" y="154.30" width="19.20" height="108.70" fill="#F7E98E"/>
<rect x="1150.01" y="177.00" width="19.20" height="86.00" fill="#B0B0B0"/>
<rect x="1173.38" y="202.40" width="19.20" height="60.60" fill="#F7E98E"/>
<rect x="1196.75" y="204.00" width="19.20" height="59.00" fill="#F7E98E"/>
<rect x="1220.12" y="211.70" width="19.20" height="51.30" fill="#B0B0B0"/>
<rect x="1243.49" y="226.10" width="19.20" height="36.90" fill="#B0B0B0"/>
<rect x="1266.86" y="228.90" width="19.20" height="34.10" fill="#B0B0B0"/>
<rect x="1290.23" y="242.10" width="19.20" height="20.90" fill="#B0B0B0"/>
<rect x="1313.60" y="246.10" width="19.20" height="16.90" fill="#B0B0B0"/>
<rect x="1336.97" y="247.10" width="19.20" height="15.90" fill="#B0B0B0"/>
<rect x="1360.34" y="247.30" width="19.20" height="15.70" fill="#B0B0B0"/>
<rect x="1383.71" y="248.10" width="19.20" height="14.90" fill="#B0B0B0"/>
<rect x="1407.08" y="249.00" width="19.20" height="14.00" fill="#F7E98E"/>
<rect x="1430.45" y="249.50" width="19.20" height="13.50" fill="#B0B0B0"/>
<rect x="1453.82" y="249.60" width="19.20" height="13.40" fill="#B0B0B0"/>
<rect x="1477.19" y="250.30" width="19.20" height="12.70" fill="#B0B0B0"/>
<rect x="1500.56" y="250.40" width="19.20" height="12.60" fill="#B0B0B0"/>
<rect x="1523.93" y="250.50" width="19.20" height="12.50" fill="#B0B0B0"/>
<rect x="1547.30" y="251.50" width="19.20" height="11.50" fill="#B0B0B0"/>
<rect x="1570.67" y="252.00" width="19.20" height="11.00" fill="#B0B0B0"/>
<rect x="1594.04" y="252.00" width="19.20" height="11.00" fill="#B0B0B0"/>
<rect x="1617.41" y="252.50" width="19.20" height="10.50" fill="#B0B0B0"/>
<rect x="1640.78" y="255.30" width="19.20" height="7.70" fill="#B0B0B0"/>
<rect x="1664.15" y="255.80" width="19.20" height="7.20" fill="#B0B0B0"/>
<rect x="1687.52" y="257.00" width="19.20" height="6.00" fill="#B0B0B0"/>
<rect x="1710.89" y="258.30" width="19.20" height="4.70" fill="#B0B0B0"/>
<rect x="1734.26" y="258.50" width="19.20" height="4.50" fill="#B0B0B0"/>
<rect x="1757.63" y="258.70" width="19.20" height="4.30" fill="#B0B0B0"/>
<rect x="1781.00" y="259.50" width="19.20" height="3.50" fill="#B0B0B0"/>
<rect x="1804.37" y="261.10" width="19.20" height="1.90" fill="#B0B0B0"/>
<rect x="1827.74" y="262.00" width="19.20" height="1.00" fill="#B0B0B0"/>
<rect x="1851.11" y="262.70" width="19.20" height="0.30" fill="#B0B0B0"/>
<path d="M959 64.5V273.2H1898" fill="none" stroke="#000" stroke-width="2" stroke-linejoin="round"/>
<path d="M954.2 263.8H959M954.2 217.7H959M954.2 171.7H959M954.2 125.6H959M954.2 79.5H959M973.00 273.2V277M996.37 273.2V277M1019.74 273.2V277M1043.11 273.2V277M1066.48 273.2V277M1089.85 273.2V277M1113.22 273.2V277M1136.59 273.2V277M1159.96 273.2V277M1183.33 273.2V277M1206.70 273.2V277M1230.07 273.2V277M1253.44 273.2V277M1276.81 273.2V277M1300.18 273.2V277M1323.55 273.2V277M1346.92 273.2V277M1370.29 273.2V277M1393.66 273.2V277M1417.03 273.2V277M1440.40 273.2V277M1463.77 273.2V277M1487.14 273.2V277M1510.51 273.2V277M1533.88 273.2V277M1557.25 273.2V277M1580.62 273.2V277M1603.99 273.2V277M1627.36 273.2V277M1650.73 273.2V277M1674.10 273.2V277M1697.47 273.2V277M1720.84 273.2V277M1744.21 273.2V277M1767.58 273.2V277M1790.95 273.2V277M1814.32 273.2V277M1837.69 273.2V277M1861.06 273.2V277M1884.43 273.2V277" fill="none" stroke="#000" stroke-width="2"/>
<text x="943.7" y="271.7" font-size="24" text-anchor="end">0</text>
<text x="943.7" y="225.6" font-size="24" text-anchor="end">20</text>
<text x="943.7" y="179.6" font-size="24" text-anchor="end">40</text>
<text x="943.7" y="133.5" font-size="24" text-anchor="end">60</text>
<text x="943.7" y="87.4" font-size="24" text-anchor="end">80</text>
<text transform="translate(899.4 210.5) rotate(-90) scale(0.95 1)" font-size="28.6">RPKM</text>
<text transform="translate(976.80 283.2) rotate(-90) scale(0.948 1)" class="s">Brain-Anterior cingulate cortex (BA24)</text>
<text transform="translate(1000.17 283.2) rotate(-90) scale(0.948 1)" class="s">Brain-Frontal cortex(BA9)</text>
<text transform="translate(1023.54 283.2) rotate(-90) scale(0.948 1)" class="s">Brain-Hypothalamus</text>
<text transform="translate(1046.91 283.2) rotate(-90) scale(0.948 1)" class="s">Brain-Nucleus accumbens (basal ganglia)</text>
<text transform="translate(1070.28 283.2) rotate(-90) scale(0.948 1)" class="s">Brain-Hippocampus</text>
<text transform="translate(1093.65 283.2) rotate(-90) scale(0.948 1)" class="s">Brain-caudate (basal ganglia)</text>
<text transform="translate(1117.02 283.2) rotate(-90) scale(0.948 1)" class="s">Brain-Putamen (basal ganglia)</text>
<text transform="translate(1140.39 283.2) rotate(-90) scale(0.948 1)" class="s">Brain-Amygdala</text>
<text transform="translate(1163.76 283.2) rotate(-90) scale(0.948 1)" class="s">Pituitary</text>
<text transform="translate(1187.13 283.2) rotate(-90) scale(0.948 1)" class="s">Brain-Substantia nigra</text>
<text transform="translate(1210.50 283.2) rotate(-90) scale(0.948 1)" class="s">Brain-Spinal cord (Cervical c-1)</text>
<text transform="translate(1233.87 283.2) rotate(-90) scale(0.948 1)" class="s">Bladder</text>
<text transform="translate(1257.24 283.2) rotate(-90) scale(0.948 1)" class="s">Colon-Sigmoid</text>
<text transform="translate(1280.61 283.2) rotate(-90) scale(0.948 1)" class="s">Nerve-Tibial</text>
<text transform="translate(1303.98 283.2) rotate(-90) scale(0.948 1)" class="s">Esophagus-Muscularis</text>
<text transform="translate(1327.35 283.2) rotate(-90) scale(0.948 1)" class="s">Esophagus-Gastroesophageal junction</text>
<text transform="translate(1350.72 283.2) rotate(-90) scale(0.948 1)" class="s">Heart-Atrial appendage</text>
<text transform="translate(1374.09 283.2) rotate(-90) scale(0.948 1)" class="s">Adipose-Subcutaneous</text>
<text transform="translate(1397.46 283.2) rotate(-90) scale(0.948 1)" class="s">Skin-Sun exposed (Lower leg)</text>
<text transform="translate(1420.83 283.2) rotate(-90) scale(0.948 1)" class="s">Brain-Cerebellar hemisphere</text>
<text transform="translate(1444.20 283.2) rotate(-90) scale(0.948 1)" class="s">Colon-Transverse</text>
<text transform="translate(1467.57 283.2) rotate(-90) scale(0.948 1)" class="s">Artery-Coronary</text>
<text transform="translate(1490.94 283.2) rotate(-90) scale(0.948 1)" class="s">Lung</text>
<text transform="translate(1514.31 283.2) rotate(-90) scale(0.948 1)" class="s">Skin-Not sun exposed (Suprapubic)</text>
<text transform="translate(1537.68 283.2) rotate(-90) scale(0.948 1)" class="s">Artery-Aorta</text>
<text transform="translate(1561.05 283.2) rotate(-90) scale(0.948 1)" class="s">Small intestine-Terminal Ileum</text>
<text transform="translate(1584.42 283.2) rotate(-90) scale(0.948 1)" class="s">Adrenal gland</text>
<text transform="translate(1607.79 283.2) rotate(-90) scale(0.948 1)" class="s">Artery-Tibial</text>
<text transform="translate(1631.16 283.2) rotate(-90) scale(0.948 1)" class="s">Adipose-Visceral (Omentum)</text>
<text transform="translate(1654.53 283.2) rotate(-90) scale(0.948 1)" class="s">Spleen</text>
<text transform="translate(1677.90 283.2) rotate(-90) scale(0.948 1)" class="s">Stomach</text>
<text transform="translate(1701.27 283.2) rotate(-90) scale(0.948 1)" class="s">Minor salivary gland</text>
<text transform="translate(1724.64 283.2) rotate(-90) scale(0.948 1)" class="s">Esophagus-Mucosa</text>
<text transform="translate(1748.01 283.2) rotate(-90) scale(0.948 1)" class="s">Thyroid</text>
<text transform="translate(1771.38 283.2) rotate(-90) scale(0.948 1)" class="s">Heart-Left ventricle</text>
<text transform="translate(1794.75 283.2) rotate(-90) scale(0.948 1)" class="s">Pancreas</text>
<text transform="translate(1818.12 283.2) rotate(-90) scale(0.948 1)" class="s">Kidney-Cortex</text>
<text transform="translate(1841.49 283.2) rotate(-90) scale(0.948 1)" class="s">Muscle-Skeletal</text>
<text transform="translate(1864.86 283.2) rotate(-90) scale(0.948 1)" class="s">Liver</text>
<text transform="translate(1888.23 283.2) rotate(-90) scale(0.948 1)" class="s">Whole blood</text>
<text x="1387.2" y="541.8" font-size="28">Tissue</text>
</g>
</svg>
</body>
</html>
